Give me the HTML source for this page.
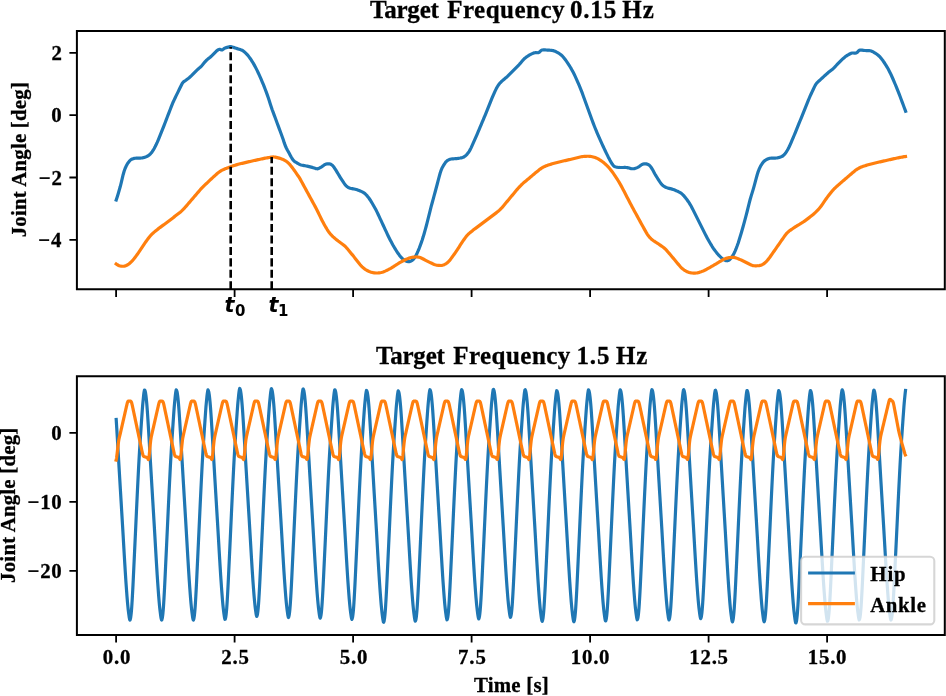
<!DOCTYPE html>
<html lang="en"><head><meta charset="utf-8"><title>Joint Angle Plots</title>
<style>
html,body{margin:0;padding:0;background:#fff;}
body{width:946px;height:696px;overflow:hidden;font-family:"Liberation Serif",serif;}
svg{display:block;}
</style></head>
<body>
<svg width="946" height="696" viewBox="0 0 946 696">
<rect x="0" y="0" width="946" height="696" fill="#fff"/>
<defs><clipPath id="c1"><rect x="77" y="31" width="869" height="258.3"/></clipPath><clipPath id="c2"><rect x="77" y="376.3" width="869" height="258.6"/></clipPath></defs>
<g clip-path="url(#c1)" fill="none" stroke-linejoin="round" stroke-linecap="square">
<path d="M116.20,200.00 L117.20,196.94 L118.20,193.69 L119.20,190.28 L120.20,186.78 L121.20,182.81 L122.20,178.56 L123.20,174.49 L124.20,171.05 L125.20,168.27 L126.20,166.03 L127.20,164.22 L128.20,162.71 L129.20,161.35 L130.20,160.26 L131.20,159.53 L132.20,159.06 L133.20,158.67 L134.20,158.38 L135.20,158.23 L136.20,158.17 L137.20,158.15 L138.20,158.14 L139.20,158.13 L140.20,158.10 L141.20,158.01 L142.20,157.85 L143.20,157.65 L144.20,157.39 L145.20,157.10 L146.20,156.77 L147.20,156.33 L148.20,155.71 L149.20,154.94 L150.20,154.07 L151.20,153.01 L152.20,151.73 L153.20,150.20 L154.20,148.43 L155.20,146.52 L156.20,144.50 L157.20,142.36 L158.20,140.07 L159.20,137.65 L160.20,135.18 L161.20,132.70 L162.20,130.20 L163.20,127.66 L164.20,125.09 L165.20,122.49 L166.20,119.88 L167.20,117.27 L168.20,114.67 L169.20,112.08 L170.20,109.45 L171.20,106.85 L172.20,104.33 L173.20,101.96 L174.20,99.80 L175.20,97.72 L176.20,95.67 L177.20,93.65 L178.20,91.62 L179.20,89.57 L180.20,87.48 L181.20,85.43 L182.20,83.48 L183.20,82.10 L184.20,81.42 L185.20,80.74 L186.20,79.98 L187.20,79.23 L188.20,78.48 L189.20,77.69 L190.20,76.82 L191.20,75.87 L192.20,74.87 L193.20,73.84 L194.20,72.80 L195.20,71.78 L196.20,70.80 L197.20,69.87 L198.20,68.99 L199.20,68.11 L200.20,67.23 L201.20,66.30 L202.20,65.25 L203.20,64.06 L204.20,62.82 L205.20,61.62 L206.20,60.55 L207.20,59.63 L208.20,58.79 L209.20,57.98 L210.20,57.17 L211.20,56.30 L212.20,55.34 L213.20,54.34 L214.20,53.30 L215.20,52.28 L216.20,51.30 L217.20,50.46 L218.20,49.82 L219.20,49.36 L220.20,49.32 L221.20,49.89 L222.20,49.91 L223.20,49.22 L224.20,48.42 L225.20,47.94 L226.20,47.66 L227.20,47.40 L228.20,47.15 L229.20,46.79 L230.20,46.53 L231.20,46.66 L232.20,46.99 L233.20,47.31 L234.20,47.64 L235.20,47.96 L236.20,48.28 L237.20,48.61 L238.20,48.93 L239.20,49.26 L240.20,49.58 L241.20,49.90 L242.20,50.31 L243.20,50.96 L244.20,51.75 L245.20,52.60 L246.20,53.57 L247.20,54.65 L248.20,55.84 L249.20,57.12 L250.20,58.50 L251.20,59.96 L252.20,61.52 L253.20,63.16 L254.20,64.89 L255.20,66.72 L256.20,68.63 L257.20,70.63 L258.20,72.72 L259.20,74.88 L260.20,77.11 L261.20,79.41 L262.20,81.78 L263.20,84.21 L264.20,86.71 L265.20,89.28 L266.20,91.92 L267.20,94.66 L268.20,97.53 L269.20,100.58 L270.20,103.70 L271.20,106.77 L272.20,109.68 L273.20,112.39 L274.20,115.09 L275.20,117.79 L276.20,120.49 L277.20,123.19 L278.20,125.89 L279.20,128.59 L280.20,131.29 L281.20,133.99 L282.20,136.69 L283.20,139.53 L284.20,142.65 L285.20,145.52 L286.20,147.76 L287.20,149.69 L288.20,151.49 L289.20,153.34 L290.20,155.22 L291.20,157.06 L292.20,158.77 L293.20,160.21 L294.20,161.20 L295.20,161.89 L296.20,162.47 L297.20,163.07 L298.20,163.66 L299.20,164.21 L300.20,164.66 L301.20,164.99 L302.20,165.21 L303.20,165.40 L304.20,165.59 L305.20,165.77 L306.20,165.96 L307.20,166.18 L308.20,166.42 L309.20,166.67 L310.20,166.92 L311.20,167.17 L312.20,167.42 L313.20,167.69 L314.20,168.01 L315.20,168.34 L316.20,168.62 L317.20,168.80 L318.20,168.63 L319.20,168.20 L320.20,167.62 L321.20,167.03 L322.20,166.40 L323.20,165.68 L324.20,164.98 L325.20,164.40 L326.20,164.01 L327.20,163.81 L328.20,163.74 L329.20,163.79 L330.20,164.01 L331.20,164.46 L332.20,165.21 L333.20,166.26 L334.20,167.55 L335.20,169.07 L336.20,170.70 L337.20,172.37 L338.20,174.04 L339.20,175.70 L340.20,177.32 L341.20,178.90 L342.20,180.45 L343.20,181.96 L344.20,183.40 L345.20,184.76 L346.20,185.90 L347.20,186.78 L348.20,187.43 L349.20,187.89 L350.20,188.21 L351.20,188.45 L352.20,188.64 L353.20,188.82 L354.20,188.99 L355.20,189.21 L356.20,189.48 L357.20,189.81 L358.20,190.17 L359.20,190.54 L360.20,190.95 L361.20,191.38 L362.20,191.85 L363.20,192.38 L364.20,193.04 L365.20,193.85 L366.20,194.80 L367.20,195.89 L368.20,197.13 L369.20,198.50 L370.20,199.98 L371.20,201.56 L372.20,203.23 L373.20,204.96 L374.20,206.70 L375.20,208.48 L376.20,210.35 L377.20,212.36 L378.20,214.50 L379.20,216.65 L380.20,218.80 L381.20,220.95 L382.20,223.10 L383.20,225.25 L384.20,227.40 L385.20,229.55 L386.20,231.70 L387.20,233.85 L388.20,235.98 L389.20,238.00 L390.20,239.95 L391.20,241.84 L392.20,243.69 L393.20,245.52 L394.20,247.25 L395.20,248.90 L396.20,250.49 L397.20,252.04 L398.20,253.54 L399.20,254.92 L400.20,256.20 L401.20,257.37 L402.20,258.44 L403.20,259.40 L404.20,260.15 L405.20,260.71 L406.20,261.13 L407.20,261.43 L408.20,261.61 L409.20,261.60 L410.20,261.38 L411.20,260.97 L412.20,260.36 L413.20,259.48 L414.20,258.28 L415.20,256.77 L416.20,254.96 L417.20,252.95 L418.20,250.72 L419.20,248.28 L420.20,245.65 L421.20,242.90 L422.20,239.99 L423.20,236.85 L424.20,233.44 L425.20,229.88 L426.20,226.21 L427.20,222.41 L428.20,218.47 L429.20,214.39 L430.20,210.33 L431.20,206.44 L432.20,202.73 L433.20,199.08 L434.20,195.43 L435.20,191.76 L436.20,188.03 L437.20,184.24 L438.20,180.46 L439.20,176.70 L440.20,173.04 L441.20,170.03 L442.20,167.73 L443.20,165.90 L444.20,164.29 L445.20,162.82 L446.20,161.59 L447.20,160.69 L448.20,160.11 L449.20,159.61 L450.20,159.23 L451.20,159.01 L452.20,158.90 L453.20,158.82 L454.20,158.76 L455.20,158.70 L456.20,158.63 L457.20,158.54 L458.20,158.40 L459.20,158.24 L460.20,158.05 L461.20,157.82 L462.20,157.58 L463.20,157.26 L464.20,156.73 L465.20,156.00 L466.20,155.09 L467.20,154.03 L468.20,152.79 L469.20,151.33 L470.20,149.62 L471.20,147.61 L472.20,145.42 L473.20,143.21 L474.20,140.96 L475.20,138.69 L476.20,136.37 L477.20,134.03 L478.20,131.68 L479.20,129.34 L480.20,126.99 L481.20,124.62 L482.20,122.24 L483.20,119.85 L484.20,117.44 L485.20,115.04 L486.20,112.62 L487.20,110.17 L488.20,107.67 L489.20,105.15 L490.20,102.62 L491.20,100.12 L492.20,97.68 L493.20,95.32 L494.20,93.05 L495.20,90.89 L496.20,88.85 L497.20,87.00 L498.20,85.39 L499.20,84.01 L500.20,82.82 L501.20,81.80 L502.20,80.88 L503.20,80.02 L504.20,79.19 L505.20,78.35 L506.20,77.48 L507.20,76.55 L508.20,75.55 L509.20,74.55 L510.20,73.55 L511.20,72.55 L512.20,71.55 L513.20,70.55 L514.20,69.55 L515.20,68.55 L516.20,67.55 L517.20,66.55 L518.20,65.55 L519.20,64.53 L520.20,63.40 L521.20,62.19 L522.20,60.97 L523.20,59.83 L524.20,58.81 L525.20,57.94 L526.20,57.18 L527.20,56.49 L528.20,55.84 L529.20,55.22 L530.20,54.65 L531.20,54.13 L532.20,53.65 L533.20,53.22 L534.20,52.85 L535.20,52.71 L536.20,52.71 L537.20,52.73 L538.20,52.64 L539.20,52.26 L540.20,51.33 L541.20,50.37 L542.20,49.98 L543.20,49.94 L544.20,49.93 L545.20,49.95 L546.20,50.00 L547.20,50.05 L548.20,50.11 L549.20,50.17 L550.20,50.25 L551.20,50.34 L552.20,50.46 L553.20,50.63 L554.20,50.94 L555.20,51.35 L556.20,51.82 L557.20,52.34 L558.20,52.89 L559.20,53.50 L560.20,54.20 L561.20,55.01 L562.20,55.94 L563.20,57.01 L564.20,58.21 L565.20,59.51 L566.20,60.90 L567.20,62.35 L568.20,63.85 L569.20,65.39 L570.20,66.99 L571.20,68.67 L572.20,70.45 L573.20,72.33 L574.20,74.31 L575.20,76.39 L576.20,78.56 L577.20,80.81 L578.20,83.12 L579.20,85.45 L580.20,87.83 L581.20,90.32 L582.20,92.93 L583.20,95.68 L584.20,98.43 L585.20,101.18 L586.20,103.93 L587.20,106.68 L588.20,109.43 L589.20,112.18 L590.20,114.93 L591.20,117.68 L592.20,120.43 L593.20,123.14 L594.20,125.74 L595.20,128.25 L596.20,130.67 L597.20,133.05 L598.20,135.38 L599.20,137.67 L600.20,139.93 L601.20,142.15 L602.20,144.35 L603.20,146.51 L604.20,148.64 L605.20,150.74 L606.20,152.82 L607.20,154.88 L608.20,156.91 L609.20,158.83 L610.20,160.66 L611.20,162.41 L612.20,164.04 L613.20,165.37 L614.20,166.33 L615.20,166.81 L616.20,167.07 L617.20,167.26 L618.20,167.39 L619.20,167.47 L620.20,167.50 L621.20,167.51 L622.20,167.50 L623.20,167.48 L624.20,167.47 L625.20,167.47 L626.20,167.50 L627.20,167.61 L628.20,167.81 L629.20,168.08 L630.20,168.35 L631.20,168.58 L632.20,168.73 L633.20,168.74 L634.20,168.61 L635.20,168.36 L636.20,168.02 L637.20,167.62 L638.20,167.15 L639.20,166.49 L640.20,165.74 L641.20,165.01 L642.20,164.39 L643.20,163.99 L644.20,163.78 L645.20,163.75 L646.20,163.88 L647.20,164.15 L648.20,164.55 L649.20,165.18 L650.20,166.11 L651.20,167.42 L652.20,169.06 L653.20,170.83 L654.20,172.66 L655.20,174.47 L656.20,176.17 L657.20,177.78 L658.20,179.38 L659.20,180.92 L660.20,182.37 L661.20,183.69 L662.20,184.82 L663.20,185.75 L664.20,186.48 L665.20,187.05 L666.20,187.48 L667.20,187.81 L668.20,188.09 L669.20,188.34 L670.20,188.58 L671.20,188.85 L672.20,189.15 L673.20,189.50 L674.20,189.87 L675.20,190.26 L676.20,190.67 L677.20,191.10 L678.20,191.57 L679.20,192.07 L680.20,192.61 L681.20,193.28 L682.20,194.11 L683.20,195.07 L684.20,196.17 L685.20,197.38 L686.20,198.68 L687.20,200.05 L688.20,201.47 L689.20,202.97 L690.20,204.57 L691.20,206.29 L692.20,208.16 L693.20,210.15 L694.20,212.15 L695.20,214.15 L696.20,216.15 L697.20,218.15 L698.20,220.15 L699.20,222.15 L700.20,224.15 L701.20,226.15 L702.20,228.15 L703.20,230.15 L704.20,232.15 L705.20,234.15 L706.20,236.09 L707.20,237.96 L708.20,239.77 L709.20,241.52 L710.20,243.24 L711.20,244.92 L712.20,246.53 L713.20,248.05 L714.20,249.48 L715.20,250.83 L716.20,252.13 L717.20,253.38 L718.20,254.58 L719.20,255.68 L720.20,256.68 L721.20,257.61 L722.20,258.49 L723.20,259.30 L724.20,259.91 L725.20,260.36 L726.20,260.65 L727.20,260.78 L728.20,260.55 L729.20,259.96 L730.20,259.07 L731.20,257.92 L732.20,256.54 L733.20,254.90 L734.20,252.99 L735.20,250.79 L736.20,248.39 L737.20,245.79 L738.20,242.94 L739.20,239.82 L740.20,236.58 L741.20,233.26 L742.20,229.81 L743.20,226.25 L744.20,222.62 L745.20,218.93 L746.20,215.19 L747.20,211.26 L748.20,207.14 L749.20,203.06 L750.20,199.27 L751.20,195.84 L752.20,192.60 L753.20,189.35 L754.20,185.91 L755.20,182.20 L756.20,178.41 L757.20,174.78 L758.20,171.56 L759.20,168.95 L760.20,166.84 L761.20,165.08 L762.20,163.54 L763.20,162.21 L764.20,161.13 L765.20,160.37 L766.20,159.75 L767.20,159.20 L768.20,158.74 L769.20,158.41 L770.20,158.23 L771.20,158.15 L772.20,158.12 L773.20,158.13 L774.20,158.12 L775.20,158.09 L776.20,158.01 L777.20,157.85 L778.20,157.65 L779.20,157.39 L780.20,157.10 L781.20,156.77 L782.20,156.31 L783.20,155.62 L784.20,154.68 L785.20,153.49 L786.20,152.11 L787.20,150.52 L788.20,148.74 L789.20,146.75 L790.20,144.55 L791.20,142.27 L792.20,139.96 L793.20,137.63 L794.20,135.25 L795.20,132.81 L796.20,130.35 L797.20,127.89 L798.20,125.42 L799.20,122.96 L800.20,120.50 L801.20,118.03 L802.20,115.56 L803.20,113.08 L804.20,110.59 L805.20,108.10 L806.20,105.61 L807.20,103.13 L808.20,100.65 L809.20,98.24 L810.20,95.95 L811.20,93.77 L812.20,91.64 L813.20,89.54 L814.20,87.43 L815.20,85.40 L816.20,83.72 L817.20,82.61 L818.20,81.67 L819.20,80.74 L820.20,79.83 L821.20,78.92 L822.20,78.01 L823.20,77.10 L824.20,76.19 L825.20,75.29 L826.20,74.38 L827.20,73.48 L828.20,72.61 L829.20,71.81 L830.20,71.04 L831.20,70.27 L832.20,69.47 L833.20,68.58 L834.20,67.59 L835.20,66.55 L836.20,65.50 L837.20,64.44 L838.20,63.39 L839.20,62.36 L840.20,61.33 L841.20,60.30 L842.20,59.34 L843.20,58.46 L844.20,57.64 L845.20,56.84 L846.20,56.09 L847.20,55.42 L848.20,54.81 L849.20,54.25 L850.20,53.74 L851.20,53.27 L852.20,52.99 L853.20,52.99 L854.20,53.10 L855.20,53.17 L856.20,53.02 L857.20,52.33 L858.20,51.24 L859.20,50.28 L860.20,50.01 L861.20,50.09 L862.20,50.20 L863.20,50.32 L864.20,50.43 L865.20,50.51 L866.20,50.56 L867.20,50.59 L868.20,50.63 L869.20,50.68 L870.20,50.77 L871.20,51.02 L872.20,51.42 L873.20,51.94 L874.20,52.52 L875.20,53.12 L876.20,53.76 L877.20,54.48 L878.20,55.29 L879.20,56.19 L880.20,57.21 L881.20,58.37 L882.20,59.65 L883.20,61.04 L884.20,62.52 L885.20,64.06 L886.20,65.65 L887.20,67.30 L888.20,69.04 L889.20,70.91 L890.20,72.91 L891.20,75.03 L892.20,77.22 L893.20,79.48 L894.20,81.82 L895.20,84.24 L896.20,86.67 L897.20,89.12 L898.20,91.61 L899.20,94.15 L900.20,96.78 L901.20,99.44 L902.20,102.11 L903.20,104.78 L904.20,107.45 L905.20,110.13 L905.60,111.20" stroke="#1f77b4" stroke-width="3.2"/>
<path d="M116.20,263.90 L117.20,264.66 L118.20,265.25 L119.20,265.67 L120.20,265.97 L121.20,266.16 L122.20,266.24 L123.20,266.23 L124.20,266.11 L125.20,265.88 L126.20,265.52 L127.20,265.04 L128.20,264.44 L129.20,263.70 L130.20,262.81 L131.20,261.85 L132.20,260.83 L133.20,259.73 L134.20,258.54 L135.20,257.23 L136.20,255.87 L137.20,254.49 L138.20,253.09 L139.20,251.66 L140.20,250.21 L141.20,248.72 L142.20,247.20 L143.20,245.69 L144.20,244.18 L145.20,242.71 L146.20,241.27 L147.20,239.87 L148.20,238.52 L149.20,237.23 L150.20,236.01 L151.20,234.90 L152.20,233.89 L153.20,232.97 L154.20,232.13 L155.20,231.30 L156.20,230.48 L157.20,229.67 L158.20,228.88 L159.20,228.10 L160.20,227.35 L161.20,226.61 L162.20,225.88 L163.20,225.15 L164.20,224.43 L165.20,223.70 L166.20,222.96 L167.20,222.22 L168.20,221.48 L169.20,220.72 L170.20,219.96 L171.20,219.19 L172.20,218.42 L173.20,217.65 L174.20,216.87 L175.20,216.09 L176.20,215.33 L177.20,214.57 L178.20,213.80 L179.20,213.01 L180.20,212.20 L181.20,211.34 L182.20,210.43 L183.20,209.45 L184.20,208.40 L185.20,207.27 L186.20,206.10 L187.20,204.93 L188.20,203.77 L189.20,202.60 L190.20,201.43 L191.20,200.27 L192.20,199.10 L193.20,197.93 L194.20,196.77 L195.20,195.60 L196.20,194.43 L197.20,193.27 L198.20,192.10 L199.20,190.93 L200.20,189.77 L201.20,188.65 L202.20,187.60 L203.20,186.60 L204.20,185.63 L205.20,184.68 L206.20,183.74 L207.20,182.79 L208.20,181.82 L209.20,180.87 L210.20,179.92 L211.20,178.98 L212.20,178.05 L213.20,177.13 L214.20,176.22 L215.20,175.32 L216.20,174.44 L217.20,173.59 L218.20,172.78 L219.20,172.03 L220.20,171.33 L221.20,170.70 L222.20,170.15 L223.20,169.67 L224.20,169.22 L225.20,168.80 L226.20,168.39 L227.20,168.01 L228.20,167.64 L229.20,167.28 L230.20,166.93 L231.20,166.58 L232.20,166.22 L233.20,165.86 L234.20,165.51 L235.20,165.18 L236.20,164.87 L237.20,164.58 L238.20,164.32 L239.20,164.06 L240.20,163.81 L241.20,163.56 L242.20,163.32 L243.20,163.08 L244.20,162.84 L245.20,162.60 L246.20,162.37 L247.20,162.14 L248.20,161.91 L249.20,161.68 L250.20,161.45 L251.20,161.23 L252.20,161.01 L253.20,160.78 L254.20,160.56 L255.20,160.34 L256.20,160.12 L257.20,159.90 L258.20,159.68 L259.20,159.47 L260.20,159.25 L261.20,159.03 L262.20,158.82 L263.20,158.60 L264.20,158.39 L265.20,158.19 L266.20,157.99 L267.20,157.81 L268.20,157.63 L269.20,157.47 L270.20,157.31 L271.20,157.17 L272.20,157.04 L273.20,156.95 L274.20,156.99 L275.20,157.12 L276.20,157.33 L277.20,157.59 L278.20,157.86 L279.20,158.12 L280.20,158.41 L281.20,158.75 L282.20,159.13 L283.20,159.57 L284.20,160.06 L285.20,160.62 L286.20,161.26 L287.20,162.00 L288.20,162.86 L289.20,163.83 L290.20,164.94 L291.20,166.18 L292.20,167.52 L293.20,168.88 L294.20,170.27 L295.20,171.68 L296.20,173.12 L297.20,174.56 L298.20,175.99 L299.20,177.42 L300.20,179.12 L301.20,180.95 L302.20,182.78 L303.20,184.62 L304.20,186.45 L305.20,188.28 L306.20,190.12 L307.20,191.95 L308.20,193.78 L309.20,195.62 L310.20,197.45 L311.20,199.28 L312.20,201.12 L313.20,202.95 L314.20,204.78 L315.20,206.62 L316.20,208.52 L317.20,210.50 L318.20,212.52 L319.20,214.58 L320.20,216.64 L321.20,218.67 L322.20,220.67 L323.20,222.59 L324.20,224.44 L325.20,226.21 L326.20,227.91 L327.20,229.53 L328.20,231.06 L329.20,232.48 L330.20,233.78 L331.20,234.95 L332.20,235.97 L333.20,236.88 L334.20,237.75 L335.20,238.61 L336.20,239.44 L337.20,240.26 L338.20,241.05 L339.20,241.79 L340.20,242.50 L341.20,243.21 L342.20,243.93 L343.20,244.69 L344.20,245.52 L345.20,246.44 L346.20,247.46 L347.20,248.55 L348.20,249.71 L349.20,250.92 L350.20,252.15 L351.20,253.40 L352.20,254.63 L353.20,255.86 L354.20,257.12 L355.20,258.41 L356.20,259.70 L357.20,260.99 L358.20,262.27 L359.20,263.53 L360.20,264.74 L361.20,265.86 L362.20,266.87 L363.20,267.78 L364.20,268.59 L365.20,269.32 L366.20,269.97 L367.20,270.55 L368.20,271.05 L369.20,271.49 L370.20,271.86 L371.20,272.18 L372.20,272.43 L373.20,272.64 L374.20,272.81 L375.20,272.94 L376.20,273.01 L377.20,273.01 L378.20,272.96 L379.20,272.87 L380.20,272.73 L381.20,272.54 L382.20,272.29 L383.20,271.96 L384.20,271.56 L385.20,271.13 L386.20,270.67 L387.20,270.19 L388.20,269.69 L389.20,269.16 L390.20,268.61 L391.20,268.03 L392.20,267.43 L393.20,266.81 L394.20,266.17 L395.20,265.52 L396.20,264.87 L397.20,264.23 L398.20,263.60 L399.20,262.98 L400.20,262.38 L401.20,261.82 L402.20,261.27 L403.20,260.76 L404.20,260.26 L405.20,259.78 L406.20,259.33 L407.20,258.88 L408.20,258.46 L409.20,258.10 L410.20,257.79 L411.20,257.54 L412.20,257.34 L413.20,257.18 L414.20,257.06 L415.20,256.99 L416.20,256.95 L417.20,256.98 L418.20,257.08 L419.20,257.27 L420.20,257.56 L421.20,257.98 L422.20,258.47 L423.20,258.99 L424.20,259.52 L425.20,260.06 L426.20,260.59 L427.20,261.10 L428.20,261.60 L429.20,262.09 L430.20,262.58 L431.20,263.06 L432.20,263.53 L433.20,264.00 L434.20,264.44 L435.20,264.80 L436.20,265.06 L437.20,265.24 L438.20,265.37 L439.20,265.45 L440.20,265.51 L441.20,265.47 L442.20,265.31 L443.20,265.03 L444.20,264.64 L445.20,264.14 L446.20,263.56 L447.20,262.86 L448.20,262.00 L449.20,260.97 L450.20,259.74 L451.20,258.41 L452.20,257.05 L453.20,255.66 L454.20,254.24 L455.20,252.79 L456.20,251.32 L457.20,249.83 L458.20,248.30 L459.20,246.76 L460.20,245.22 L461.20,243.69 L462.20,242.19 L463.20,240.72 L464.20,239.27 L465.20,237.86 L466.20,236.54 L467.20,235.33 L468.20,234.26 L469.20,233.36 L470.20,232.51 L471.20,231.69 L472.20,230.89 L473.20,230.11 L474.20,229.35 L475.20,228.60 L476.20,227.85 L477.20,227.10 L478.20,226.35 L479.20,225.60 L480.20,224.85 L481.20,224.10 L482.20,223.35 L483.20,222.60 L484.20,221.85 L485.20,221.10 L486.20,220.35 L487.20,219.60 L488.20,218.85 L489.20,218.10 L490.20,217.35 L491.20,216.60 L492.20,215.85 L493.20,215.10 L494.20,214.35 L495.20,213.60 L496.20,212.85 L497.20,212.07 L498.20,211.26 L499.20,210.40 L500.20,209.48 L501.20,208.46 L502.20,207.35 L503.20,206.16 L504.20,204.96 L505.20,203.76 L506.20,202.56 L507.20,201.36 L508.20,200.16 L509.20,198.96 L510.20,197.76 L511.20,196.56 L512.20,195.36 L513.20,194.16 L514.20,192.95 L515.20,191.74 L516.20,190.54 L517.20,189.37 L518.20,188.22 L519.20,187.11 L520.20,186.04 L521.20,185.03 L522.20,184.08 L523.20,183.18 L524.20,182.30 L525.20,181.46 L526.20,180.64 L527.20,179.82 L528.20,179.00 L529.20,178.17 L530.20,177.33 L531.20,176.48 L532.20,175.62 L533.20,174.77 L534.20,173.92 L535.20,173.09 L536.20,172.26 L537.20,171.44 L538.20,170.64 L539.20,169.86 L540.20,169.10 L541.20,168.40 L542.20,167.76 L543.20,167.19 L544.20,166.68 L545.20,166.22 L546.20,165.80 L547.20,165.42 L548.20,165.07 L549.20,164.75 L550.20,164.44 L551.20,164.14 L552.20,163.84 L553.20,163.55 L554.20,163.26 L555.20,162.98 L556.20,162.71 L557.20,162.44 L558.20,162.18 L559.20,161.94 L560.20,161.70 L561.20,161.48 L562.20,161.25 L563.20,161.03 L564.20,160.80 L565.20,160.58 L566.20,160.36 L567.20,160.14 L568.20,159.91 L569.20,159.68 L570.20,159.45 L571.20,159.22 L572.20,158.97 L573.20,158.72 L574.20,158.46 L575.20,158.21 L576.20,157.95 L577.20,157.69 L578.20,157.44 L579.20,157.19 L580.20,156.95 L581.20,156.75 L582.20,156.60 L583.20,156.48 L584.20,156.39 L585.20,156.33 L586.20,156.29 L587.20,156.26 L588.20,156.24 L589.20,156.28 L590.20,156.38 L591.20,156.52 L592.20,156.72 L593.20,156.96 L594.20,157.24 L595.20,157.57 L596.20,157.96 L597.20,158.42 L598.20,158.94 L599.20,159.51 L600.20,160.14 L601.20,160.81 L602.20,161.53 L603.20,162.28 L604.20,163.09 L605.20,163.95 L606.20,164.87 L607.20,165.85 L608.20,166.89 L609.20,168.01 L610.20,169.19 L611.20,170.43 L612.20,171.73 L613.20,173.11 L614.20,174.55 L615.20,176.06 L616.20,177.60 L617.20,179.17 L618.20,180.77 L619.20,182.42 L620.20,184.12 L621.20,185.89 L622.20,187.73 L623.20,189.65 L624.20,191.59 L625.20,193.54 L626.20,195.49 L627.20,197.43 L628.20,199.34 L629.20,201.25 L630.20,203.16 L631.20,205.06 L632.20,206.94 L633.20,208.80 L634.20,210.65 L635.20,212.49 L636.20,214.32 L637.20,216.14 L638.20,217.96 L639.20,219.79 L640.20,221.62 L641.20,223.44 L642.20,225.26 L643.20,227.06 L644.20,228.86 L645.20,230.64 L646.20,232.41 L647.20,234.08 L648.20,235.54 L649.20,236.83 L650.20,237.94 L651.20,238.92 L652.20,239.77 L653.20,240.52 L654.20,241.21 L655.20,241.86 L656.20,242.49 L657.20,243.11 L658.20,243.75 L659.20,244.42 L660.20,245.15 L661.20,245.86 L662.20,246.56 L663.20,247.28 L664.20,248.06 L665.20,248.94 L666.20,249.95 L667.20,251.05 L668.20,252.19 L669.20,253.35 L670.20,254.53 L671.20,255.72 L672.20,256.91 L673.20,258.10 L674.20,259.28 L675.20,260.48 L676.20,261.69 L677.20,262.90 L678.20,264.11 L679.20,265.30 L680.20,266.48 L681.20,267.56 L682.20,268.49 L683.20,269.32 L684.20,270.03 L685.20,270.66 L686.20,271.22 L687.20,271.71 L688.20,272.12 L689.20,272.44 L690.20,272.69 L691.20,272.87 L692.20,272.98 L693.20,273.03 L694.20,273.06 L695.20,273.05 L696.20,272.98 L697.20,272.85 L698.20,272.65 L699.20,272.37 L700.20,272.05 L701.20,271.72 L702.20,271.36 L703.20,270.96 L704.20,270.53 L705.20,270.06 L706.20,269.53 L707.20,268.97 L708.20,268.41 L709.20,267.84 L710.20,267.27 L711.20,266.70 L712.20,266.12 L713.20,265.55 L714.20,264.97 L715.20,264.38 L716.20,263.79 L717.20,263.19 L718.20,262.58 L719.20,261.98 L720.20,261.37 L721.20,260.77 L722.20,260.18 L723.20,259.61 L724.20,259.13 L725.20,258.71 L726.20,258.37 L727.20,258.07 L728.20,257.83 L729.20,257.63 L730.20,257.47 L731.20,257.35 L732.20,257.31 L733.20,257.33 L734.20,257.45 L735.20,257.66 L736.20,257.98 L737.20,258.37 L738.20,258.78 L739.20,259.20 L740.20,259.64 L741.20,260.08 L742.20,260.53 L743.20,260.99 L744.20,261.46 L745.20,261.95 L746.20,262.46 L747.20,262.98 L748.20,263.50 L749.20,264.02 L750.20,264.51 L751.20,264.98 L752.20,265.36 L753.20,265.60 L754.20,265.73 L755.20,265.79 L756.20,265.78 L757.20,265.76 L758.20,265.72 L759.20,265.61 L760.20,265.42 L761.20,265.12 L762.20,264.70 L763.20,264.13 L764.20,263.41 L765.20,262.56 L766.20,261.62 L767.20,260.56 L768.20,259.39 L769.20,258.11 L770.20,256.71 L771.20,255.28 L772.20,253.85 L773.20,252.41 L774.20,250.98 L775.20,249.55 L776.20,248.11 L777.20,246.68 L778.20,245.25 L779.20,243.81 L780.20,242.38 L781.20,240.95 L782.20,239.51 L783.20,238.08 L784.20,236.65 L785.20,235.22 L786.20,233.93 L787.20,232.84 L788.20,231.89 L789.20,231.07 L790.20,230.33 L791.20,229.63 L792.20,228.96 L793.20,228.27 L794.20,227.61 L795.20,226.97 L796.20,226.34 L797.20,225.72 L798.20,225.11 L799.20,224.50 L800.20,223.89 L801.20,223.26 L802.20,222.63 L803.20,221.98 L804.20,221.31 L805.20,220.61 L806.20,219.89 L807.20,219.15 L808.20,218.40 L809.20,217.64 L810.20,216.85 L811.20,216.06 L812.20,215.25 L813.20,214.41 L814.20,213.54 L815.20,212.63 L816.20,211.67 L817.20,210.65 L818.20,209.58 L819.20,208.45 L820.20,207.25 L821.20,205.96 L822.20,204.57 L823.20,203.13 L824.20,201.66 L825.20,200.19 L826.20,198.76 L827.20,197.39 L828.20,196.09 L829.20,194.78 L830.20,193.48 L831.20,192.21 L832.20,190.98 L833.20,189.83 L834.20,188.77 L835.20,187.82 L836.20,186.91 L837.20,186.02 L838.20,185.14 L839.20,184.26 L840.20,183.39 L841.20,182.53 L842.20,181.66 L843.20,180.80 L844.20,179.94 L845.20,179.08 L846.20,178.21 L847.20,177.35 L848.20,176.49 L849.20,175.63 L850.20,174.77 L851.20,173.92 L852.20,173.07 L853.20,172.23 L854.20,171.41 L855.20,170.59 L856.20,169.83 L857.20,169.15 L858.20,168.55 L859.20,168.00 L860.20,167.52 L861.20,167.08 L862.20,166.69 L863.20,166.33 L864.20,166.00 L865.20,165.69 L866.20,165.39 L867.20,165.09 L868.20,164.79 L869.20,164.50 L870.20,164.22 L871.20,163.95 L872.20,163.68 L873.20,163.43 L874.20,163.18 L875.20,162.95 L876.20,162.73 L877.20,162.50 L878.20,162.28 L879.20,162.05 L880.20,161.83 L881.20,161.60 L882.20,161.38 L883.20,161.16 L884.20,160.93 L885.20,160.70 L886.20,160.48 L887.20,160.25 L888.20,160.03 L889.20,159.80 L890.20,159.58 L891.20,159.35 L892.20,159.13 L893.20,158.91 L894.20,158.68 L895.20,158.46 L896.20,158.24 L897.20,158.03 L898.20,157.82 L899.20,157.62 L900.20,157.43 L901.20,157.24 L902.20,157.06 L903.20,156.87 L904.20,156.70 L905.20,156.55 L905.50,156.50" stroke="#ff7f0e" stroke-width="3.2"/>
<path d="M230.7,289.3 L230.7,47" stroke="#000" stroke-width="2.6" stroke-linecap="butt" stroke-dasharray="8.05 3.4"/>
<path d="M271.7,289.3 L271.7,157" stroke="#000" stroke-width="2.6" stroke-linecap="butt" stroke-dasharray="8.05 3.4"/>
</g>
<g clip-path="url(#c2)" fill="none" stroke-linejoin="round" stroke-linecap="square">
<path d="M116.20,419.45 L116.45,423.40 L116.70,427.48 L116.95,431.60 L117.20,435.75 L117.45,439.97 L117.70,444.22 L117.95,448.48 L118.20,452.77 L118.45,457.06 L118.70,461.32 L118.95,465.56 L119.20,469.79 L119.45,474.01 L119.70,478.22 L119.95,482.41 L120.20,486.59 L120.45,490.75 L120.70,494.91 L120.95,499.06 L121.20,503.22 L121.45,507.38 L121.70,511.53 L121.95,515.67 L122.20,519.83 L122.45,523.99 L122.70,528.18 L122.95,532.42 L123.20,536.71 L123.45,541.04 L123.70,545.38 L123.95,549.70 L124.20,553.98 L124.45,558.19 L124.70,562.33 L124.95,566.44 L125.20,570.49 L125.45,574.47 L125.70,578.33 L125.95,582.05 L126.20,585.65 L126.45,589.12 L126.70,592.49 L126.95,595.78 L127.20,598.95 L127.45,601.88 L127.70,604.63 L127.95,607.17 L128.20,609.48 L128.45,611.60 L128.70,613.56 L128.95,615.41 L129.20,617.16 L129.45,618.54 L129.70,619.58 L129.95,620.14 L130.20,619.55 L130.45,618.62 L130.70,617.36 L130.95,615.53 L131.20,613.36 L131.45,610.62 L131.70,607.43 L131.95,603.75 L132.20,599.62 L132.45,595.19 L132.70,590.61 L132.95,585.81 L133.20,580.71 L133.45,575.44 L133.70,570.09 L133.95,564.79 L134.20,559.54 L134.45,554.26 L134.70,548.95 L134.95,543.62 L135.20,538.28 L135.45,532.94 L135.70,527.57 L135.95,522.17 L136.20,516.76 L136.45,511.37 L136.70,506.05 L136.95,500.80 L137.20,495.59 L137.45,490.42 L137.70,485.32 L137.95,480.30 L138.20,475.34 L138.45,470.44 L138.70,465.68 L138.95,461.10 L139.20,456.69 L139.45,452.42 L139.70,448.29 L139.95,444.32 L140.20,440.51 L140.45,436.78 L140.70,433.06 L140.95,429.32 L141.20,425.62 L141.45,421.95 L141.70,418.35 L141.95,414.80 L142.20,411.26 L142.45,407.90 L142.70,404.88 L142.95,402.15 L143.20,399.60 L143.45,397.13 L143.70,394.76 L143.95,392.83 L144.20,391.26 L144.45,390.00 L144.70,390.01 L144.95,390.56 L145.20,391.30 L145.45,392.38 L145.70,393.91 L145.95,395.66 L146.20,397.83 L146.45,400.29 L146.70,402.98 L146.95,405.91 L147.20,409.08 L147.45,412.56 L147.70,416.26 L147.95,420.07 L148.20,424.05 L148.45,428.13 L148.70,432.26 L148.95,436.42 L149.20,440.65 L149.45,444.90 L149.70,449.17 L149.95,453.46 L150.20,457.74 L150.45,462.00 L150.70,466.24 L150.95,470.47 L151.20,474.69 L151.45,478.89 L151.70,483.08 L151.95,487.26 L152.20,491.42 L152.45,495.57 L152.70,499.73 L152.95,503.88 L153.20,508.04 L153.45,512.19 L153.70,516.34 L153.95,520.49 L154.20,524.66 L154.45,528.86 L154.70,533.10 L154.95,537.40 L155.20,541.73 L155.45,546.07 L155.70,550.39 L155.95,554.66 L156.20,558.86 L156.45,562.99 L156.70,567.09 L156.95,571.14 L157.20,575.10 L157.45,578.94 L157.70,582.64 L157.95,586.21 L158.20,589.67 L158.45,593.02 L158.70,596.30 L158.95,599.43 L159.20,602.34 L159.45,605.05 L159.70,607.56 L159.95,609.83 L160.20,611.92 L160.45,613.86 L160.70,615.71 L160.95,617.42 L161.20,618.72 L161.45,619.72 L161.70,620.07 L161.95,619.42 L162.20,618.46 L162.45,617.10 L162.70,615.20 L162.95,612.96 L163.20,610.14 L163.45,606.88 L163.70,603.12 L163.95,598.93 L164.20,594.46 L164.45,589.87 L164.70,585.01 L164.95,579.88 L165.20,574.58 L165.45,569.24 L165.70,563.95 L165.95,558.70 L166.20,553.41 L166.45,548.10 L166.70,542.77 L166.95,537.43 L167.20,532.09 L167.45,526.71 L167.70,521.30 L167.95,515.89 L168.20,510.52 L168.45,505.20 L168.70,499.96 L168.95,494.76 L169.20,489.60 L169.45,484.51 L169.70,479.51 L169.95,474.55 L170.20,469.67 L170.45,464.93 L170.70,460.39 L170.95,456.00 L171.20,451.75 L171.45,447.64 L171.70,443.70 L171.95,439.91 L172.20,436.19 L172.45,432.46 L172.70,428.73 L172.95,425.03 L173.20,421.37 L173.45,417.79 L173.70,414.23 L173.95,410.70 L174.20,407.39 L174.45,404.43 L174.70,401.73 L174.95,399.21 L175.20,396.74 L175.45,394.41 L175.70,392.56 L175.95,391.03 L176.20,389.84 L176.45,390.08 L176.70,390.67 L176.95,391.43 L177.20,392.60 L177.45,394.18 L177.70,395.97 L177.95,398.21 L178.20,400.71 L178.45,403.43 L178.70,406.40 L178.95,409.62 L179.20,413.15 L179.45,416.87 L179.70,420.70 L179.95,424.70 L180.20,428.79 L180.45,432.92 L180.70,437.10 L180.95,441.33 L181.20,445.58 L181.45,449.85 L181.70,454.15 L181.95,458.42 L182.20,462.68 L182.45,466.92 L182.70,471.14 L182.95,475.36 L183.20,479.56 L183.45,483.75 L183.70,487.92 L183.95,492.08 L184.20,496.24 L184.45,500.39 L184.70,504.55 L184.95,508.71 L185.20,512.85 L185.45,517.00 L185.70,521.16 L185.95,525.33 L186.20,529.53 L186.45,533.79 L186.70,538.09 L186.95,542.43 L187.20,546.77 L187.45,551.08 L187.70,555.34 L187.95,559.52 L188.20,563.65 L188.45,567.74 L188.70,571.78 L188.95,575.72 L189.20,579.54 L189.45,583.22 L189.70,586.77 L189.95,590.21 L190.20,593.55 L190.45,596.81 L190.70,599.91 L190.95,602.78 L191.20,605.47 L191.45,607.94 L191.70,610.18 L191.95,612.24 L192.20,614.16 L192.45,616.00 L192.70,617.66 L192.95,618.90 L193.20,619.86 L193.45,620.00 L193.70,619.28 L193.95,618.29 L194.20,616.83 L194.45,614.87 L194.70,612.55 L194.95,609.64 L195.20,606.32 L195.45,602.48 L195.70,598.24 L195.95,593.74 L196.20,589.13 L196.45,584.22 L196.70,579.05 L196.95,573.75 L197.20,568.41 L197.45,563.13 L197.70,557.88 L197.95,552.59 L198.20,547.28 L198.45,541.95 L198.70,536.61 L198.95,531.27 L199.20,525.89 L199.45,520.48 L199.70,515.08 L199.95,509.71 L200.20,504.41 L200.45,499.18 L200.70,493.98 L200.95,488.84 L201.20,483.77 L201.45,478.77 L201.70,473.83 L201.95,468.96 L202.20,464.26 L202.45,459.74 L202.70,455.38 L202.95,451.16 L203.20,447.08 L203.45,443.16 L203.70,439.39 L203.95,435.67 L204.20,431.94 L204.45,428.22 L204.70,424.52 L204.95,420.88 L205.20,417.31 L205.45,413.75 L205.70,410.25 L205.95,406.98 L206.20,404.08 L206.45,401.41 L206.70,398.91 L206.95,396.45 L207.20,394.18 L207.45,392.40 L207.70,390.92 L207.95,389.91 L208.20,390.25 L208.45,390.88 L208.70,391.68 L208.95,392.92 L209.20,394.54 L209.45,396.38 L209.70,398.67 L209.95,401.19 L210.20,403.95 L210.45,406.94 L210.70,410.19 L210.95,413.75 L211.20,417.47 L211.45,421.32 L211.70,425.32 L211.95,429.42 L212.20,433.53 L212.45,437.70 L212.70,441.93 L212.95,446.16 L213.20,450.43 L213.45,454.71 L213.70,458.96 L213.95,463.20 L214.20,467.42 L214.45,471.63 L214.70,475.83 L214.95,480.02 L215.20,484.19 L215.45,488.35 L215.70,492.49 L215.95,496.63 L216.20,500.77 L216.45,504.92 L216.70,509.06 L216.95,513.19 L217.20,517.32 L217.45,521.46 L217.70,525.63 L217.95,529.82 L218.20,534.07 L218.45,538.37 L218.70,542.69 L218.95,547.01 L219.20,551.30 L219.45,555.54 L219.70,559.69 L219.95,563.80 L220.20,567.87 L220.45,571.88 L220.70,575.79 L220.95,579.57 L221.20,583.22 L221.45,586.75 L221.70,590.16 L221.95,593.47 L222.20,596.70 L222.45,599.76 L222.70,602.58 L222.95,605.23 L223.20,607.65 L223.45,609.85 L223.70,611.89 L223.95,613.77 L224.20,615.60 L224.45,617.19 L224.70,618.37 L224.95,619.28 L225.20,619.21 L225.45,618.43 L225.70,617.39 L225.95,615.83 L226.20,613.81 L226.45,611.39 L226.70,608.40 L226.95,604.99 L227.20,601.06 L227.45,596.75 L227.70,592.22 L227.95,587.55 L228.20,582.58 L228.45,577.37 L228.70,572.03 L228.95,566.67 L229.20,561.39 L229.45,556.11 L229.70,550.80 L229.95,545.47 L230.20,540.12 L230.45,534.76 L230.70,529.40 L230.95,523.99 L231.20,518.56 L231.45,513.15 L231.70,507.77 L231.95,502.47 L232.20,497.22 L232.45,492.01 L232.70,486.86 L232.95,481.78 L233.20,476.78 L233.45,471.83 L233.70,466.97 L233.95,462.28 L234.20,457.78 L234.45,453.42 L234.70,449.21 L234.95,445.13 L235.20,441.24 L235.45,437.46 L235.70,433.73 L235.95,429.99 L236.20,426.26 L236.45,422.55 L236.70,418.91 L236.95,415.33 L237.20,411.76 L237.45,408.27 L237.70,405.05 L237.95,402.18 L238.20,399.54 L238.45,397.05 L238.70,394.58 L238.95,392.37 L239.20,390.65 L239.45,389.21 L239.70,388.44 L239.95,388.84 L240.20,389.49 L240.45,390.33 L240.70,391.64 L240.95,393.28 L241.20,395.17 L241.45,397.50 L241.70,400.03 L241.95,402.82 L242.20,405.83 L242.45,409.11 L242.70,412.68 L242.95,416.39 L243.20,420.24 L243.45,424.24 L243.70,428.31 L243.95,432.40 L244.20,436.56 L244.45,440.76 L244.70,444.97 L244.95,449.21 L245.20,453.47 L245.45,457.69 L245.70,461.89 L245.95,466.09 L246.20,470.27 L246.45,474.44 L246.70,478.60 L246.95,482.74 L247.20,486.86 L247.45,490.98 L247.70,495.09 L247.95,499.20 L248.20,503.32 L248.45,507.44 L248.70,511.54 L248.95,515.65 L249.20,519.77 L249.45,523.91 L249.70,528.08 L249.95,532.31 L250.20,536.58 L250.45,540.88 L250.70,545.17 L250.95,549.42 L251.20,553.62 L251.45,557.73 L251.70,561.81 L251.95,565.85 L252.20,569.82 L252.45,573.69 L252.70,577.42 L252.95,581.02 L253.20,584.51 L253.45,587.88 L253.70,591.16 L253.95,594.35 L254.20,597.35 L254.45,600.13 L254.70,602.72 L254.95,605.09 L255.20,607.25 L255.45,609.25 L255.70,611.10 L255.95,612.90 L256.20,614.42 L256.45,615.55 L256.70,616.40 L256.95,616.11 L257.20,615.29 L257.45,614.22 L257.70,612.58 L257.95,610.55 L258.20,608.07 L258.45,605.05 L258.70,601.61 L258.95,597.67 L259.20,593.37 L259.45,588.88 L259.70,584.24 L259.95,579.30 L260.20,574.13 L260.45,568.86 L260.70,563.59 L260.95,558.39 L261.20,553.18 L261.45,547.94 L261.70,542.68 L261.95,537.41 L262.20,532.13 L262.45,526.83 L262.70,521.50 L262.95,516.15 L263.20,510.81 L263.45,505.52 L263.70,500.31 L263.95,495.14 L264.20,490.02 L264.45,484.95 L264.70,479.96 L264.95,475.04 L265.20,470.16 L265.45,465.40 L265.70,460.80 L265.95,456.39 L266.20,452.12 L266.45,447.99 L266.70,444.00 L266.95,440.18 L267.20,436.48 L267.45,432.80 L267.70,429.11 L267.95,425.43 L268.20,421.79 L268.45,418.20 L268.70,414.69 L268.95,411.17 L269.20,407.76 L269.45,404.64 L269.70,401.86 L269.95,399.28 L270.20,396.83 L270.45,394.42 L270.70,392.32 L270.95,390.67 L271.20,389.30 L271.45,388.78 L271.70,389.23 L271.95,389.91 L272.20,390.81 L272.45,392.20 L272.70,393.88 L272.95,395.84 L273.20,398.22 L273.45,400.80 L273.70,403.63 L273.95,406.68 L274.20,410.03 L274.45,413.64 L274.70,417.38 L274.95,421.27 L275.20,425.30 L275.45,429.39 L275.70,433.50 L275.95,437.68 L276.20,441.90 L276.45,446.12 L276.70,450.38 L276.95,454.65 L277.20,458.88 L277.45,463.09 L277.70,467.30 L277.95,471.49 L278.20,475.67 L278.45,479.84 L278.70,483.99 L278.95,488.13 L279.20,492.25 L279.45,496.38 L279.70,500.51 L279.95,504.64 L280.20,508.76 L280.45,512.88 L280.70,517.00 L280.95,521.13 L281.20,525.29 L281.45,529.48 L281.70,533.73 L281.95,538.03 L282.20,542.34 L282.45,546.64 L282.70,550.90 L282.95,555.09 L283.20,559.21 L283.45,563.30 L283.70,567.34 L283.95,571.31 L284.20,575.17 L284.45,578.89 L284.70,582.48 L284.95,585.96 L285.20,589.32 L285.45,592.61 L285.70,595.78 L285.95,598.75 L286.20,601.51 L286.45,604.08 L286.70,606.41 L286.95,608.55 L287.20,610.53 L287.45,612.38 L287.70,614.16 L287.95,615.61 L288.20,616.70 L288.45,617.50 L288.70,617.00 L288.95,616.14 L289.20,614.98 L289.45,613.26 L289.70,611.18 L289.95,608.58 L290.20,605.49 L290.45,601.95 L290.70,597.93 L290.95,593.58 L291.20,589.06 L291.45,584.36 L291.70,579.35 L291.95,574.14 L292.20,568.84 L292.45,563.56 L292.70,558.36 L292.95,553.12 L293.20,547.86 L293.45,542.58 L293.70,537.28 L293.95,531.98 L294.20,526.66 L294.45,521.31 L294.70,515.94 L294.95,510.59 L295.20,505.29 L295.45,500.07 L295.70,494.89 L295.95,489.76 L296.20,484.68 L296.45,479.68 L296.70,474.75 L296.95,469.88 L297.20,465.11 L297.45,460.54 L297.70,456.13 L297.95,451.87 L298.20,447.74 L298.45,443.77 L298.70,439.96 L298.95,436.25 L299.20,432.56 L299.45,428.85 L299.70,425.17 L299.95,421.52 L300.20,417.94 L300.45,414.41 L300.70,410.88 L300.95,407.50 L301.20,404.43 L301.45,401.68 L301.70,399.12 L301.95,396.67 L302.20,394.27 L302.45,392.24 L302.70,390.64 L302.95,389.32 L303.20,389.03 L303.45,389.53 L303.70,390.24 L303.95,391.21 L304.20,392.66 L304.45,394.37 L304.70,396.42 L304.95,398.84 L305.20,401.47 L305.45,404.34 L305.70,407.44 L305.95,410.85 L306.20,414.50 L306.45,418.26 L306.70,422.19 L306.95,426.24 L307.20,430.35 L307.45,434.48 L307.70,438.67 L307.95,442.90 L308.20,447.14 L308.45,451.42 L308.70,455.68 L308.95,459.92 L309.20,464.15 L309.45,468.36 L309.70,472.56 L309.95,476.75 L310.20,480.92 L310.45,485.08 L310.70,489.23 L310.95,493.36 L311.20,497.50 L311.45,501.64 L311.70,505.78 L311.95,509.91 L312.20,514.04 L312.45,518.17 L312.70,522.31 L312.95,526.49 L313.20,530.70 L313.45,534.97 L313.70,539.28 L313.95,543.60 L314.20,547.90 L314.45,552.16 L314.70,556.36 L314.95,560.48 L315.20,564.57 L315.45,568.61 L315.70,572.57 L315.95,576.42 L316.20,580.13 L316.45,583.71 L316.70,587.18 L316.95,590.54 L317.20,593.82 L317.45,596.97 L317.70,599.91 L317.95,602.64 L318.20,605.19 L318.45,607.49 L318.70,609.61 L318.95,611.57 L319.20,613.41 L319.45,615.16 L319.70,616.55 L319.95,617.60 L320.20,618.20 L320.45,617.63 L320.70,616.73 L320.95,615.49 L321.20,613.70 L321.45,611.55 L321.70,608.86 L321.95,605.71 L322.20,602.08 L322.45,598.00 L322.70,593.61 L322.95,589.07 L323.20,584.31 L323.45,579.27 L323.70,574.04 L323.95,568.73 L324.20,563.46 L324.45,558.26 L324.70,553.02 L324.95,547.75 L325.20,542.46 L325.45,537.17 L325.70,531.87 L325.95,526.54 L326.20,521.18 L326.45,515.81 L326.70,510.46 L326.95,505.18 L327.20,499.96 L327.45,494.79 L327.70,489.66 L327.95,484.60 L328.20,479.61 L328.45,474.69 L328.70,469.82 L328.95,465.08 L329.20,460.54 L329.45,456.15 L329.70,451.91 L329.95,447.81 L330.20,443.86 L330.45,440.07 L330.70,436.37 L330.95,432.68 L331.20,428.97 L331.45,425.29 L331.70,421.65 L331.95,418.08 L332.20,414.55 L332.45,411.03 L332.70,407.69 L332.95,404.68 L333.20,401.96 L333.45,399.43 L333.70,396.98 L333.95,394.61 L334.20,392.67 L334.45,391.10 L334.70,389.84 L334.95,389.79 L335.20,390.33 L335.45,391.06 L335.70,392.12 L335.95,393.63 L336.20,395.37 L336.45,397.51 L336.70,399.97 L336.95,402.63 L337.20,405.55 L337.45,408.70 L337.70,412.16 L337.95,415.84 L338.20,419.64 L338.45,423.60 L338.70,427.67 L338.95,431.78 L339.20,435.93 L339.45,440.15 L339.70,444.39 L339.95,448.64 L340.20,452.93 L340.45,457.20 L340.70,461.44 L340.95,465.67 L341.20,469.89 L341.45,474.10 L341.70,478.29 L341.95,482.47 L342.20,486.64 L342.45,490.79 L342.70,494.93 L342.95,499.07 L343.20,503.22 L343.45,507.37 L343.70,511.51 L343.95,515.64 L344.20,519.78 L344.45,523.94 L344.70,528.13 L344.95,532.36 L345.20,536.64 L345.45,540.96 L345.70,545.29 L345.95,549.60 L346.20,553.86 L346.45,558.05 L346.70,562.17 L346.95,566.26 L347.20,570.30 L347.45,574.26 L347.70,578.09 L347.95,581.79 L348.20,585.36 L348.45,588.81 L348.70,592.16 L348.95,595.43 L349.20,598.57 L349.45,601.47 L349.70,604.19 L349.95,606.70 L350.20,608.97 L350.45,611.07 L350.70,613.00 L350.95,614.85 L351.20,616.56 L351.45,617.88 L351.70,618.89 L351.95,619.29 L352.20,618.65 L352.45,617.71 L352.70,616.38 L352.95,614.52 L353.20,612.30 L353.45,609.52 L353.70,606.30 L353.95,602.58 L354.20,598.43 L354.45,594.00 L354.70,589.44 L354.95,584.62 L355.20,579.53 L355.45,574.27 L355.70,568.96 L355.95,563.70 L356.20,558.48 L356.45,553.23 L356.70,547.95 L356.95,542.65 L357.20,537.34 L357.45,532.03 L357.70,526.69 L357.95,521.32 L358.20,515.94 L358.45,510.60 L358.70,505.31 L358.95,500.10 L359.20,494.92 L359.45,489.80 L359.70,484.74 L359.95,479.76 L360.20,474.83 L360.45,469.98 L360.70,465.26 L360.95,460.73 L361.20,456.37 L361.45,452.14 L361.70,448.05 L361.95,444.13 L362.20,440.36 L362.45,436.65 L362.70,432.95 L362.95,429.24 L363.20,425.56 L363.45,421.92 L363.70,418.36 L363.95,414.82 L364.20,411.31 L364.45,408.01 L364.70,405.05 L364.95,402.36 L365.20,399.85 L365.45,397.39 L365.70,395.07 L365.95,393.21 L366.20,391.68 L366.45,390.48 L366.70,390.66 L366.95,391.25 L367.20,392.01 L367.45,393.16 L367.70,394.74 L367.95,396.54 L368.20,398.77 L368.45,401.28 L368.70,404.01 L368.95,407.00 L369.20,410.22 L369.45,413.76 L369.70,417.50 L369.95,421.35 L370.20,425.37 L370.45,429.50 L370.70,433.65 L370.95,437.85 L371.20,442.11 L371.45,446.40 L371.70,450.70 L371.95,455.02 L372.20,459.33 L372.45,463.61 L372.70,467.88 L372.95,472.14 L373.20,476.38 L373.45,480.62 L373.70,484.84 L373.95,489.04 L374.20,493.23 L374.45,497.41 L374.70,501.59 L374.95,505.78 L375.20,509.97 L375.45,514.14 L375.70,518.32 L375.95,522.50 L376.20,526.70 L376.45,530.93 L376.70,535.21 L376.95,539.55 L377.20,543.91 L377.45,548.28 L377.70,552.62 L377.95,556.92 L378.20,561.13 L378.45,565.29 L378.70,569.41 L378.95,573.48 L379.20,577.45 L379.45,581.30 L379.70,585.01 L379.95,588.60 L380.20,592.07 L380.45,595.44 L380.70,598.72 L380.95,601.85 L381.20,604.75 L381.45,607.46 L381.70,609.96 L381.95,612.22 L382.20,614.31 L382.45,616.24 L382.70,618.10 L382.95,619.78 L383.20,621.05 L383.45,622.02 L383.70,622.22 L383.95,621.51 L384.20,620.52 L384.45,619.08 L384.70,617.13 L384.95,614.81 L385.20,611.91 L385.45,608.59 L385.70,604.75 L385.95,600.50 L386.20,595.99 L386.45,591.36 L386.70,586.43 L386.95,581.25 L387.20,575.92 L387.45,570.55 L387.70,565.25 L387.95,559.97 L388.20,554.65 L388.45,549.31 L388.70,543.95 L388.95,538.59 L389.20,533.22 L389.45,527.81 L389.70,522.38 L389.95,516.94 L390.20,511.55 L390.45,506.22 L390.70,500.96 L390.95,495.73 L391.20,490.56 L391.45,485.46 L391.70,480.44 L391.95,475.46 L392.20,470.57 L392.45,465.83 L392.70,461.29 L392.95,456.89 L393.20,452.64 L393.45,448.54 L393.70,444.60 L393.95,440.80 L394.20,437.06 L394.45,433.31 L394.70,429.57 L394.95,425.85 L395.20,422.19 L395.45,418.59 L395.70,415.02 L395.95,411.49 L396.20,408.20 L396.45,405.26 L396.70,402.58 L396.95,400.06 L397.20,397.58 L397.45,395.28 L397.70,393.47 L397.95,391.97 L398.20,390.91 L398.45,391.23 L398.70,391.86 L398.95,392.64 L399.20,393.87 L399.45,395.49 L399.70,397.32 L399.95,399.60 L400.20,402.12 L400.45,404.89 L400.70,407.88 L400.95,411.13 L401.20,414.70 L401.45,418.43 L401.70,422.28 L401.95,426.30 L402.20,430.41 L402.45,434.54 L402.70,438.72 L402.95,442.96 L403.20,447.21 L403.45,451.49 L403.70,455.79 L403.95,460.07 L404.20,464.32 L404.45,468.56 L404.70,472.79 L404.95,477.00 L405.20,481.21 L405.45,485.39 L405.70,489.57 L405.95,493.73 L406.20,497.88 L406.45,502.04 L406.70,506.20 L406.95,510.36 L407.20,514.51 L407.45,518.65 L407.70,522.81 L407.95,526.99 L408.20,531.20 L408.45,535.46 L408.70,539.78 L408.95,544.12 L409.20,548.45 L409.45,552.76 L409.70,557.02 L409.95,561.19 L410.20,565.31 L410.45,569.41 L410.70,573.43 L410.95,577.37 L411.20,581.17 L411.45,584.83 L411.70,588.38 L411.95,591.81 L412.20,595.14 L412.45,598.39 L412.70,601.46 L412.95,604.31 L413.20,606.97 L413.45,609.41 L413.70,611.63 L413.95,613.68 L414.20,615.58 L414.45,617.41 L414.70,619.03 L414.95,620.23 L415.20,621.15 L415.45,621.13 L415.70,620.36 L415.95,619.34 L416.20,617.79 L416.45,615.78 L416.70,613.38 L416.95,610.40 L417.20,607.00 L417.45,603.08 L417.70,598.77 L417.95,594.23 L418.20,589.56 L418.45,584.59 L418.70,579.37 L418.95,574.02 L419.20,568.65 L419.45,563.35 L419.70,558.06 L419.95,552.74 L420.20,547.39 L420.45,542.03 L420.70,536.66 L420.95,531.28 L421.20,525.86 L421.45,520.42 L421.70,514.99 L421.95,509.59 L422.20,504.28 L422.45,499.01 L422.70,493.79 L422.95,488.62 L423.20,483.53 L423.45,478.51 L423.70,473.54 L423.95,468.67 L424.20,463.95 L424.45,459.43 L424.70,455.06 L424.95,450.83 L425.20,446.74 L425.45,442.83 L425.70,439.04 L425.95,435.30 L426.20,431.55 L426.45,427.80 L426.70,424.09 L426.95,420.43 L427.20,416.85 L427.45,413.26 L427.70,409.76 L427.95,406.52 L428.20,403.63 L428.45,400.97 L428.70,398.47 L428.95,395.99 L429.20,393.76 L429.45,392.02 L429.70,390.56 L429.95,389.73 L430.20,390.12 L430.45,390.77 L430.70,391.60 L430.95,392.91 L431.20,394.56 L431.45,396.45 L431.70,398.79 L431.95,401.33 L432.20,404.13 L432.45,407.16 L432.70,410.46 L432.95,414.05 L433.20,417.80 L433.45,421.68 L433.70,425.71 L433.95,429.81 L434.20,433.94 L434.45,438.13 L434.70,442.37 L434.95,446.62 L435.20,450.90 L435.45,455.19 L435.70,459.46 L435.95,463.70 L436.20,467.93 L436.45,472.15 L436.70,476.36 L436.95,480.56 L437.20,484.74 L437.45,488.90 L437.70,493.06 L437.95,497.21 L438.20,501.36 L438.45,505.52 L438.70,509.67 L438.95,513.81 L439.20,517.95 L439.45,522.11 L439.70,526.29 L439.95,530.49 L440.20,534.76 L440.45,539.07 L440.70,543.41 L440.95,547.74 L441.20,552.04 L441.45,556.27 L441.70,560.43 L441.95,564.54 L442.20,568.62 L442.45,572.63 L442.70,576.54 L442.95,580.31 L443.20,583.96 L443.45,587.48 L443.70,590.88 L443.95,594.20 L444.20,597.42 L444.45,600.46 L444.70,603.27 L444.95,605.90 L445.20,608.29 L445.45,610.48 L445.70,612.50 L445.95,614.38 L446.20,616.20 L446.45,617.75 L446.70,618.90 L446.95,619.77 L447.20,619.53 L447.45,618.72 L447.70,617.64 L447.95,616.02 L448.20,613.97 L448.45,611.49 L448.70,608.45 L448.95,604.99 L449.20,601.03 L449.45,596.70 L449.70,592.16 L449.95,587.48 L450.20,582.49 L450.45,577.28 L450.70,571.95 L450.95,566.62 L451.20,561.37 L451.45,556.10 L451.70,550.80 L451.95,545.49 L452.20,540.15 L452.45,534.82 L452.70,529.47 L452.95,524.07 L453.20,518.66 L453.45,513.27 L453.70,507.92 L453.95,502.64 L454.20,497.42 L454.45,492.24 L454.70,487.11 L454.95,482.06 L455.20,477.08 L455.45,472.15 L455.70,467.33 L455.95,462.67 L456.20,458.21 L456.45,453.88 L456.70,449.70 L456.95,445.66 L457.20,441.80 L457.45,438.05 L457.70,434.33 L457.95,430.60 L458.20,426.88 L458.45,423.20 L458.70,419.57 L458.95,416.02 L459.20,412.45 L459.45,409.00 L459.70,405.84 L459.95,403.01 L460.20,400.40 L460.45,397.92 L460.70,395.47 L460.95,393.33 L461.20,391.65 L461.45,390.26 L461.70,389.67 L461.95,390.11 L462.20,390.79 L462.45,391.67 L462.70,393.04 L462.95,394.72 L463.20,396.67 L463.45,399.04 L463.70,401.62 L463.95,404.44 L464.20,407.49 L464.45,410.84 L464.70,414.45 L464.95,418.19 L465.20,422.08 L465.45,426.12 L465.70,430.21 L465.95,434.33 L466.20,438.52 L466.45,442.74 L466.70,446.98 L466.95,451.25 L467.20,455.52 L467.45,459.76 L467.70,463.99 L467.95,468.20 L468.20,472.40 L468.45,476.59 L468.70,480.77 L468.95,484.93 L469.20,489.08 L469.45,493.21 L469.70,497.35 L469.95,501.48 L470.20,505.63 L470.45,509.76 L470.70,513.88 L470.95,518.01 L471.20,522.15 L471.45,526.32 L471.70,530.52 L471.95,534.78 L472.20,539.08 L472.45,543.40 L472.70,547.71 L472.95,551.98 L473.20,556.19 L473.45,560.32 L473.70,564.41 L473.95,568.47 L474.20,572.45 L474.45,576.32 L474.70,580.06 L474.95,583.66 L475.20,587.15 L475.45,590.53 L475.70,593.82 L475.95,597.01 L476.20,599.99 L476.45,602.76 L476.70,605.35 L476.95,607.70 L477.20,609.85 L477.45,611.84 L477.70,613.69 L477.95,615.48 L478.20,616.96 L478.45,618.06 L478.70,618.87 L478.95,618.43 L479.20,617.57 L479.45,616.43 L479.70,614.72 L479.95,612.64 L480.20,610.06 L480.45,606.96 L480.70,603.43 L480.95,599.41 L481.20,595.04 L481.45,590.50 L481.70,585.79 L481.95,580.77 L482.20,575.54 L482.45,570.22 L482.70,564.91 L482.95,559.68 L483.20,554.42 L483.45,549.14 L483.70,543.83 L483.95,538.51 L484.20,533.19 L484.45,527.84 L484.70,522.46 L484.95,517.06 L485.20,511.69 L485.45,506.36 L485.70,501.11 L485.95,495.91 L486.20,490.75 L486.45,485.65 L486.70,480.62 L486.95,475.66 L487.20,470.76 L487.45,465.97 L487.70,461.36 L487.95,456.93 L488.20,452.64 L488.45,448.49 L488.70,444.49 L488.95,440.66 L489.20,436.93 L489.45,433.22 L489.70,429.50 L489.95,425.79 L490.20,422.13 L490.45,418.52 L490.70,414.98 L490.95,411.43 L491.20,408.02 L491.45,404.93 L491.70,402.15 L491.95,399.57 L492.20,397.10 L492.45,394.69 L492.70,392.63 L492.95,391.00 L493.20,389.67 L493.45,389.32 L493.70,389.80 L493.95,390.50 L494.20,391.45 L494.45,392.88 L494.70,394.57 L494.95,396.60 L495.20,398.99 L495.45,401.59 L495.70,404.44 L495.95,407.52 L496.20,410.89 L496.45,414.52 L496.70,418.26 L496.95,422.16 L497.20,426.19 L497.45,430.27 L497.70,434.38 L497.95,438.55 L498.20,442.76 L498.45,446.98 L498.70,451.23 L498.95,455.48 L499.20,459.70 L499.45,463.90 L499.70,468.09 L499.95,472.27 L500.20,476.44 L500.45,480.60 L500.70,484.73 L500.95,488.86 L501.20,492.98 L501.45,497.09 L501.70,501.21 L501.95,505.33 L502.20,509.44 L502.45,513.54 L502.70,517.65 L502.95,521.78 L503.20,525.93 L503.45,530.12 L503.70,534.37 L503.95,538.65 L504.20,542.95 L504.45,547.23 L504.70,551.48 L504.95,555.65 L505.20,559.75 L505.45,563.82 L505.70,567.85 L505.95,571.80 L506.20,575.63 L506.45,579.33 L506.70,582.90 L506.95,586.35 L507.20,589.69 L507.45,592.96 L507.70,596.10 L507.95,599.04 L508.20,601.77 L508.45,604.31 L508.70,606.61 L508.95,608.72 L509.20,610.67 L509.45,612.51 L509.70,614.27 L509.95,615.66 L510.20,616.72 L510.45,617.37 L510.70,616.82 L510.95,615.92 L511.20,614.72 L511.45,612.94 L511.70,610.82 L511.95,608.17 L512.20,605.04 L512.45,601.45 L512.70,597.39 L512.95,593.03 L513.20,588.51 L513.45,583.79 L513.70,578.77 L513.95,573.56 L514.20,568.28 L514.45,563.03 L514.70,557.84 L514.95,552.62 L515.20,547.37 L515.45,542.11 L515.70,536.83 L515.95,531.55 L516.20,526.24 L516.45,520.90 L516.70,515.55 L516.95,510.23 L517.20,504.96 L517.45,499.76 L517.70,494.60 L517.95,489.49 L518.20,484.44 L518.45,479.48 L518.70,474.57 L518.95,469.72 L519.20,464.99 L519.45,460.45 L519.70,456.08 L519.95,451.85 L520.20,447.75 L520.45,443.81 L520.70,440.04 L520.95,436.35 L521.20,432.66 L521.45,428.97 L521.70,425.30 L521.95,421.68 L522.20,418.11 L522.45,414.60 L522.70,411.09 L522.95,407.75 L523.20,404.74 L523.45,402.02 L523.70,399.49 L523.95,397.05 L524.20,394.68 L524.45,392.73 L524.70,391.15 L524.95,389.89 L525.20,389.78 L525.45,390.31 L525.70,391.05 L525.95,392.09 L526.20,393.60 L526.45,395.35 L526.70,397.48 L526.95,399.95 L527.20,402.64 L527.45,405.57 L527.70,408.73 L527.95,412.21 L528.20,415.92 L528.45,419.74 L528.70,423.73 L528.95,427.84 L529.20,431.99 L529.45,436.17 L529.70,440.42 L529.95,444.69 L530.20,448.98 L530.45,453.30 L530.70,457.61 L530.95,461.89 L531.20,466.16 L531.45,470.42 L531.70,474.66 L531.95,478.89 L532.20,483.11 L532.45,487.31 L532.70,491.50 L532.95,495.68 L533.20,499.86 L533.45,504.04 L533.70,508.23 L533.95,512.40 L534.20,516.57 L534.45,520.75 L534.70,524.94 L534.95,529.16 L535.20,533.43 L535.45,537.75 L535.70,542.11 L535.95,546.47 L536.20,550.82 L536.45,555.12 L536.70,559.35 L536.95,563.51 L537.20,567.64 L537.45,571.72 L537.70,575.71 L537.95,579.58 L538.20,583.31 L538.45,586.92 L538.70,590.41 L538.95,593.79 L539.20,597.10 L539.45,600.26 L539.70,603.20 L539.95,605.95 L540.20,608.49 L540.45,610.79 L540.70,612.91 L540.95,614.87 L541.20,616.73 L541.45,618.47 L541.70,619.82 L541.95,620.85 L542.20,621.31 L542.45,620.68 L542.70,619.74 L542.95,618.43 L543.20,616.56 L543.45,614.35 L543.70,611.56 L543.95,608.33 L544.20,604.61 L544.45,600.44 L544.70,595.98 L544.95,591.39 L545.20,586.55 L545.45,581.42 L545.70,576.13 L545.95,570.78 L546.20,565.47 L546.45,560.21 L546.70,554.92 L546.95,549.60 L547.20,544.26 L547.45,538.91 L547.70,533.56 L547.95,528.18 L548.20,522.76 L548.45,517.34 L548.70,511.96 L548.95,506.63 L549.20,501.37 L549.45,496.15 L549.70,490.98 L549.95,485.88 L550.20,480.86 L550.45,475.89 L550.70,470.99 L550.95,466.23 L551.20,461.67 L551.45,457.26 L551.70,452.99 L551.95,448.87 L552.20,444.91 L552.45,441.10 L552.70,437.37 L552.95,433.63 L553.20,429.89 L553.45,426.18 L553.70,422.52 L553.95,418.92 L554.20,415.36 L554.45,411.82 L554.70,408.47 L554.95,405.48 L555.20,402.76 L555.45,400.22 L555.70,397.75 L555.95,395.39 L556.20,393.50 L556.45,391.95 L556.70,390.72 L556.95,390.84 L557.20,391.42 L557.45,392.17 L557.70,393.30 L557.95,394.86 L558.20,396.64 L558.45,398.85 L558.70,401.34 L558.95,404.06 L559.20,407.02 L559.45,410.22 L559.70,413.74 L559.95,417.47 L560.20,421.30 L560.45,425.31 L560.70,429.41 L560.95,433.56 L561.20,437.74 L561.45,441.99 L561.70,446.26 L561.95,450.54 L562.20,454.86 L562.45,459.15 L562.70,463.42 L562.95,467.68 L563.20,471.92 L563.45,476.16 L563.70,480.38 L563.95,484.58 L564.20,488.77 L564.45,492.95 L564.70,497.12 L564.95,501.29 L565.20,505.46 L565.45,509.64 L565.70,513.80 L565.95,517.97 L566.20,522.14 L566.45,526.32 L566.70,530.54 L566.95,534.80 L567.20,539.12 L567.45,543.48 L567.70,547.83 L567.95,552.16 L568.20,556.45 L568.45,560.65 L568.70,564.79 L568.95,568.91 L569.20,572.97 L569.45,576.93 L569.70,580.78 L569.95,584.48 L570.20,588.06 L570.45,591.52 L570.70,594.88 L570.95,598.17 L571.20,601.29 L571.45,604.19 L571.70,606.90 L571.95,609.40 L572.20,611.67 L572.45,613.75 L572.70,615.69 L572.95,617.54 L573.20,619.23 L573.45,620.51 L573.70,621.49 L573.95,621.74 L574.20,621.04 L574.45,620.06 L574.70,618.64 L574.95,616.70 L575.20,614.40 L575.45,611.51 L575.70,608.20 L575.95,604.37 L576.20,600.12 L576.45,595.61 L576.70,590.97 L576.95,586.04 L577.20,580.86 L577.45,575.51 L577.70,570.13 L577.95,564.81 L578.20,559.52 L578.45,554.19 L578.70,548.84 L578.95,543.47 L579.20,538.09 L579.45,532.70 L579.70,527.28 L579.95,521.83 L580.20,516.39 L580.45,510.98 L580.70,505.63 L580.95,500.35 L581.20,495.11 L581.45,489.92 L581.70,484.81 L581.95,479.77 L582.20,474.78 L582.45,469.87 L582.70,465.11 L582.95,460.55 L583.20,456.14 L583.45,451.87 L583.70,447.75 L583.95,443.79 L584.20,439.98 L584.45,436.23 L584.70,432.47 L584.95,428.72 L585.20,424.99 L585.45,421.31 L585.70,417.71 L585.95,414.12 L586.20,410.58 L586.45,407.27 L586.70,404.31 L586.95,401.61 L587.20,399.08 L587.45,396.59 L587.70,394.28 L587.95,392.45 L588.20,390.93 L588.45,389.80 L588.70,390.12 L588.95,390.73 L589.20,391.51 L589.45,392.73 L589.70,394.33 L589.95,396.16 L590.20,398.44 L590.45,400.96 L590.70,403.72 L590.95,406.73 L591.20,409.98 L591.45,413.54 L591.70,417.29 L591.95,421.15 L592.20,425.17 L592.45,429.29 L592.70,433.44 L592.95,437.64 L593.20,441.89 L593.45,446.16 L593.70,450.46 L593.95,454.77 L594.20,459.06 L594.45,463.33 L594.70,467.59 L594.95,471.84 L595.20,476.07 L595.45,480.29 L595.70,484.49 L595.95,488.68 L596.20,492.86 L596.45,497.03 L596.70,501.21 L596.95,505.38 L597.20,509.56 L597.45,513.72 L597.70,517.89 L597.95,522.06 L598.20,526.26 L598.45,530.48 L598.70,534.75 L598.95,539.08 L599.20,543.44 L599.45,547.79 L599.70,552.12 L599.95,556.40 L600.20,560.59 L600.45,564.73 L600.70,568.84 L600.95,572.89 L601.20,576.84 L601.45,580.66 L601.70,584.35 L601.95,587.91 L602.20,591.35 L602.45,594.70 L602.70,597.97 L602.95,601.07 L603.20,603.93 L603.45,606.61 L603.70,609.07 L603.95,611.31 L604.20,613.37 L604.45,615.28 L604.70,617.12 L604.95,618.76 L605.20,619.98 L605.45,620.92 L605.70,620.95 L605.95,620.20 L606.20,619.19 L606.45,617.67 L606.70,615.68 L606.95,613.30 L607.20,610.34 L607.45,606.96 L607.70,603.07 L607.95,598.78 L608.20,594.25 L608.45,589.60 L608.70,584.64 L608.95,579.44 L609.20,574.10 L609.45,568.73 L609.70,563.44 L609.95,558.16 L610.20,552.84 L610.45,547.50 L610.70,542.14 L610.95,536.78 L611.20,531.41 L611.45,526.00 L611.70,520.57 L611.95,515.14 L612.20,509.75 L612.45,504.44 L612.70,499.18 L612.95,493.96 L613.20,488.80 L613.45,483.71 L613.70,478.70 L613.95,473.73 L614.20,468.86 L614.45,464.14 L614.70,459.62 L614.95,455.25 L615.20,451.02 L615.45,446.93 L615.70,443.01 L615.95,439.23 L616.20,435.49 L616.45,431.74 L616.70,428.00 L616.95,424.29 L617.20,420.64 L617.45,417.05 L617.70,413.48 L617.95,409.97 L618.20,406.72 L618.45,403.82 L618.70,401.16 L618.95,398.66 L619.20,396.18 L619.45,393.94 L619.70,392.18 L619.95,390.72 L620.20,389.83 L620.45,390.20 L620.70,390.84 L620.95,391.66 L621.20,392.95 L621.45,394.59 L621.70,396.46 L621.95,398.78 L622.20,401.32 L622.45,404.11 L622.70,407.13 L622.95,410.41 L623.20,413.99 L623.45,417.73 L623.70,421.60 L623.95,425.63 L624.20,429.73 L624.45,433.86 L624.70,438.04 L624.95,442.28 L625.20,446.53 L625.45,450.80 L625.70,455.09 L625.95,459.36 L626.20,463.60 L626.45,467.83 L626.70,472.05 L626.95,476.26 L627.20,480.45 L627.45,484.63 L627.70,488.79 L627.95,492.95 L628.20,497.09 L628.45,501.24 L628.70,505.40 L628.95,509.55 L629.20,513.69 L629.45,517.83 L629.70,521.98 L629.95,526.16 L630.20,530.36 L630.45,534.63 L630.70,538.94 L630.95,543.27 L631.20,547.60 L631.45,551.89 L631.70,556.13 L631.95,560.29 L632.20,564.40 L632.45,568.48 L632.70,572.49 L632.95,576.40 L633.20,580.18 L633.45,583.83 L633.70,587.35 L633.95,590.76 L634.20,594.08 L634.45,597.31 L634.70,600.35 L634.95,603.17 L635.20,605.80 L635.45,608.21 L635.70,610.40 L635.95,612.43 L636.20,614.31 L636.45,616.13 L636.70,617.70 L636.95,618.86 L637.20,619.74 L637.45,619.56 L637.70,618.76 L637.95,617.70 L638.20,616.09 L638.45,614.06 L638.70,611.60 L638.95,608.58 L639.20,605.14 L639.45,601.19 L639.70,596.88 L639.95,592.35 L640.20,587.68 L640.45,582.70 L640.70,577.49 L640.95,572.16 L641.20,566.83 L641.45,561.58 L641.70,556.31 L641.95,551.02 L642.20,545.70 L642.45,540.37 L642.70,535.03 L642.95,529.68 L643.20,524.29 L643.45,518.88 L643.70,513.48 L643.95,508.13 L644.20,502.85 L644.45,497.63 L644.70,492.44 L644.95,487.31 L645.20,482.26 L645.45,477.28 L645.70,472.35 L645.95,467.52 L646.20,462.86 L646.45,458.38 L646.70,454.05 L646.95,449.86 L647.20,445.82 L647.45,441.95 L647.70,438.20 L647.95,434.48 L648.20,430.75 L648.45,427.03 L648.70,423.34 L648.95,419.71 L649.20,416.16 L649.45,412.60 L649.70,409.13 L649.95,405.96 L650.20,403.12 L650.45,400.50 L650.70,398.02 L650.95,395.57 L651.20,393.40 L651.45,391.71 L651.70,390.31 L651.95,389.66 L652.20,390.08 L652.45,390.76 L652.70,391.63 L652.95,392.99 L653.20,394.67 L653.45,396.61 L653.70,398.99 L653.95,401.56 L654.20,404.39 L654.45,407.45 L654.70,410.79 L654.95,414.41 L655.20,418.16 L655.45,422.07 L655.70,426.11 L655.95,430.23 L656.20,434.36 L656.45,438.56 L656.70,442.81 L656.95,447.06 L657.20,451.34 L657.45,455.64 L657.70,459.90 L657.95,464.14 L658.20,468.37 L658.45,472.60 L658.70,476.80 L658.95,481.00 L659.20,485.18 L659.45,489.34 L659.70,493.50 L659.95,497.65 L660.20,501.81 L660.45,505.96 L660.70,510.11 L660.95,514.26 L661.20,518.41 L661.45,522.57 L661.70,526.75 L661.95,530.96 L662.20,535.24 L662.45,539.56 L662.70,543.90 L662.95,548.23 L663.20,552.52 L663.45,556.75 L663.70,560.90 L663.95,565.01 L664.20,569.09 L664.45,573.09 L664.70,576.98 L664.95,580.74 L665.20,584.37 L665.45,587.88 L665.70,591.27 L665.95,594.58 L666.20,597.79 L666.45,600.80 L666.70,603.59 L666.95,606.19 L667.20,608.56 L667.45,610.73 L667.70,612.73 L667.95,614.60 L668.20,616.40 L668.45,617.90 L668.70,619.02 L668.95,619.85 L669.20,619.45 L669.45,618.60 L669.70,617.48 L669.95,615.79 L670.20,613.71 L670.45,611.15 L670.70,608.06 L670.95,604.54 L671.20,600.52 L671.45,596.16 L671.70,591.61 L671.95,586.90 L672.20,581.88 L672.45,576.64 L672.70,571.31 L672.95,565.98 L673.20,560.74 L673.45,555.47 L673.70,550.17 L673.95,544.85 L674.20,539.51 L674.45,534.17 L674.70,528.82 L674.95,523.42 L675.20,518.01 L675.45,512.62 L675.70,507.28 L675.95,502.02 L676.20,496.79 L676.45,491.62 L676.70,486.50 L676.95,481.46 L677.20,476.49 L677.45,471.57 L677.70,466.76 L677.95,462.13 L678.20,457.68 L678.45,453.37 L678.70,449.21 L678.95,445.19 L679.20,441.34 L679.45,437.60 L679.70,433.88 L679.95,430.15 L680.20,426.44 L680.45,422.76 L680.70,419.14 L680.95,415.59 L681.20,412.03 L681.45,408.60 L681.70,405.48 L681.95,402.69 L682.20,400.10 L682.45,397.62 L682.70,395.19 L682.95,393.11 L683.20,391.47 L683.45,390.12 L683.70,389.70 L683.95,390.18 L684.20,390.88 L684.45,391.81 L684.70,393.23 L684.95,394.92 L685.20,396.93 L685.45,399.33 L685.70,401.93 L685.95,404.78 L686.20,407.86 L686.45,411.24 L686.70,414.87 L686.95,418.62 L687.20,422.53 L687.45,426.57 L687.70,430.67 L687.95,434.79 L688.20,438.98 L688.45,443.20 L688.70,447.44 L688.95,451.71 L689.20,455.97 L689.45,460.21 L689.70,464.43 L689.95,468.64 L690.20,472.83 L690.45,477.02 L690.70,481.19 L690.95,485.35 L691.20,489.49 L691.45,493.62 L691.70,497.75 L691.95,501.88 L692.20,506.02 L692.45,510.15 L692.70,514.27 L692.95,518.40 L693.20,522.54 L693.45,526.70 L693.70,530.90 L693.95,535.17 L694.20,539.47 L694.45,543.78 L694.70,548.09 L694.95,552.35 L695.20,556.54 L695.45,560.66 L695.70,564.75 L695.95,568.79 L696.20,572.76 L696.45,576.61 L696.70,580.33 L696.95,583.92 L697.20,587.39 L697.45,590.75 L697.70,594.03 L697.95,597.20 L698.20,600.15 L698.45,602.90 L698.70,605.46 L698.95,607.78 L699.20,609.91 L699.45,611.87 L699.70,613.72 L699.95,615.49 L700.20,616.91 L700.45,617.98 L700.70,618.68 L700.95,618.14 L701.20,617.26 L701.45,616.07 L701.70,614.31 L701.95,612.19 L702.20,609.55 L702.45,606.43 L702.70,602.85 L702.95,598.79 L703.20,594.42 L703.45,589.89 L703.70,585.16 L703.95,580.14 L704.20,574.92 L704.45,569.62 L704.70,564.34 L704.95,559.14 L705.20,553.90 L705.45,548.64 L705.70,543.35 L705.95,538.06 L706.20,532.76 L706.45,527.44 L706.70,522.08 L706.95,516.71 L707.20,511.36 L707.45,506.07 L707.70,500.85 L707.95,495.68 L708.20,490.55 L708.45,485.48 L708.70,480.49 L708.95,475.56 L709.20,470.69 L709.45,465.94 L709.70,461.38 L709.95,456.98 L710.20,452.73 L710.45,448.62 L710.70,444.66 L710.95,440.86 L711.20,437.16 L711.45,433.46 L711.70,429.76 L711.95,426.08 L712.20,422.43 L712.45,418.86 L712.70,415.33 L712.95,411.81 L713.20,408.44 L713.45,405.40 L713.70,402.67 L713.95,400.12 L714.20,397.67 L714.45,395.29 L714.70,393.31 L714.95,391.72 L715.20,390.43 L715.45,390.26 L715.70,390.79 L715.95,391.51 L716.20,392.54 L716.45,394.03 L716.70,395.77 L716.95,397.89 L717.20,400.35 L717.45,403.02 L717.70,405.95 L717.95,409.10 L718.20,412.57 L718.45,416.27 L718.70,420.09 L718.95,424.07 L719.20,428.17 L719.45,432.32 L719.70,436.50 L719.95,440.74 L720.20,445.02 L720.45,449.31 L720.70,453.63 L720.95,457.94 L721.20,462.22 L721.45,466.49 L721.70,470.75 L721.95,474.99 L722.20,479.23 L722.45,483.44 L722.70,487.65 L722.95,491.83 L723.20,496.01 L723.45,500.19 L723.70,504.38 L723.95,508.56 L724.20,512.73 L724.45,516.91 L724.70,521.08 L724.95,525.28 L725.20,529.49 L725.45,533.76 L725.70,538.08 L725.95,542.43 L726.20,546.80 L726.45,551.15 L726.70,555.45 L726.95,559.68 L727.20,563.84 L727.45,567.97 L727.70,572.05 L727.95,576.05 L728.20,579.93 L728.45,583.67 L728.70,587.28 L728.95,590.77 L729.20,594.16 L729.45,597.47 L729.70,600.64 L729.95,603.59 L730.20,606.34 L730.45,608.89 L730.70,611.21 L730.95,613.33 L731.20,615.30 L731.45,617.16 L731.70,618.91 L731.95,620.27 L732.20,621.31 L732.45,621.82 L732.70,621.21 L732.95,620.27 L733.20,618.98 L733.45,617.13 L733.70,614.93 L733.95,612.15 L734.20,608.93 L734.45,605.22 L734.70,601.05 L734.95,596.59 L735.20,591.99 L735.45,587.14 L735.70,582.01 L735.95,576.71 L736.20,571.34 L736.45,566.01 L736.70,560.74 L736.95,555.43 L737.20,550.09 L737.45,544.74 L737.70,539.38 L737.95,534.01 L738.20,528.61 L738.45,523.18 L738.70,517.75 L738.95,512.34 L739.20,506.99 L739.45,501.72 L739.70,496.48 L739.95,491.30 L740.20,486.17 L740.45,481.14 L740.70,476.15 L740.95,471.23 L741.20,466.45 L741.45,461.86 L741.70,457.43 L741.95,453.15 L742.20,449.01 L742.45,445.03 L742.70,441.20 L742.95,437.46 L743.20,433.71 L743.45,429.96 L743.70,426.24 L743.95,422.56 L744.20,418.95 L744.45,415.38 L744.70,411.82 L744.95,408.46 L745.20,405.44 L745.45,402.70 L745.70,400.15 L745.95,397.67 L746.20,395.30 L746.45,393.37 L746.70,391.81 L746.95,390.56 L747.20,390.62 L747.45,391.19 L747.70,391.94 L747.95,393.05 L748.20,394.59 L748.45,396.37 L748.70,398.56 L748.95,401.05 L749.20,403.76 L749.45,406.71 L749.70,409.91 L749.95,413.42 L750.20,417.14 L750.45,420.97 L750.70,424.97 L750.95,429.08 L751.20,433.23 L751.45,437.41 L751.70,441.66 L751.95,445.93 L752.20,450.22 L752.45,454.54 L752.70,458.84 L752.95,463.11 L753.20,467.37 L753.45,471.62 L753.70,475.86 L753.95,480.09 L754.20,484.30 L754.45,488.49 L754.70,492.67 L754.95,496.84 L755.20,501.02 L755.45,505.20 L755.70,509.37 L755.95,513.54 L756.20,517.71 L756.45,521.88 L756.70,526.07 L756.95,530.29 L757.20,534.56 L757.45,538.88 L757.70,543.23 L757.95,547.59 L758.20,551.93 L758.45,556.22 L758.70,560.43 L758.95,564.58 L759.20,568.70 L759.45,572.76 L759.70,576.74 L759.95,580.59 L760.20,584.30 L760.45,587.89 L760.70,591.36 L760.95,594.73 L761.20,598.02 L761.45,601.15 L761.70,604.06 L761.95,606.78 L762.20,609.29 L762.45,611.57 L762.70,613.67 L762.95,615.61 L763.20,617.46 L763.45,619.17 L763.70,620.46 L763.95,621.46 L764.20,621.76 L764.45,621.08 L764.70,620.11 L764.95,618.72 L765.20,616.80 L765.45,614.53 L765.70,611.67 L765.95,608.38 L766.20,604.59 L766.45,600.37 L766.70,595.88 L766.95,591.26 L767.20,586.37 L767.45,581.21 L767.70,575.89 L767.95,570.52 L768.20,565.22 L768.45,559.94 L768.70,554.64 L768.95,549.30 L769.20,543.95 L769.45,538.59 L769.70,533.23 L769.95,527.83 L770.20,522.40 L770.45,516.97 L770.70,511.57 L770.95,506.24 L771.20,500.98 L771.45,495.76 L771.70,490.59 L771.95,485.48 L772.20,480.46 L772.45,475.48 L772.70,470.59 L772.95,465.84 L773.20,461.28 L773.45,456.88 L773.70,452.62 L773.95,448.51 L774.20,444.56 L774.45,440.76 L774.70,437.02 L774.95,433.27 L775.20,429.53 L775.45,425.82 L775.70,422.15 L775.95,418.55 L776.20,414.98 L776.45,411.45 L776.70,408.13 L776.95,405.17 L777.20,402.47 L777.45,399.95 L777.70,397.47 L777.95,395.15 L778.20,393.30 L778.45,391.78 L778.70,390.60 L778.95,390.90 L779.20,391.51 L779.45,392.28 L779.70,393.48 L779.95,395.09 L780.20,396.91 L780.45,399.18 L780.70,401.71 L780.95,404.47 L781.20,407.48 L781.45,410.74 L781.70,414.31 L781.95,418.06 L782.20,421.94 L782.45,425.98 L782.70,430.12 L782.95,434.28 L783.20,438.50 L783.45,442.77 L783.70,447.06 L783.95,451.37 L784.20,455.71 L784.45,460.02 L784.70,464.31 L784.95,468.59 L785.20,472.86 L785.45,477.11 L785.70,481.35 L785.95,485.58 L786.20,489.79 L786.45,493.98 L786.70,498.18 L786.95,502.37 L787.20,506.56 L787.45,510.76 L787.70,514.94 L787.95,519.13 L788.20,523.32 L788.45,527.53 L788.70,531.78 L788.95,536.07 L789.20,540.42 L789.45,544.79 L789.70,549.17 L789.95,553.52 L790.20,557.82 L790.45,562.03 L790.70,566.20 L790.95,570.33 L791.20,574.40 L791.45,578.37 L791.70,582.22 L791.95,585.92 L792.20,589.51 L792.45,592.98 L792.70,596.34 L792.95,599.63 L793.20,602.75 L793.45,605.63 L793.70,608.34 L793.95,610.82 L794.20,613.07 L794.45,615.15 L794.70,617.08 L794.95,618.93 L795.20,620.59 L795.45,621.83 L795.70,622.79 L795.95,622.87 L796.20,622.13 L796.45,621.12 L796.70,619.62 L796.95,617.63 L797.20,615.27 L797.45,612.31 L797.70,608.93 L797.95,605.04 L798.20,600.74 L798.45,596.20 L798.70,591.52 L798.95,586.55 L799.20,581.33 L799.45,575.97 L799.70,570.57 L799.95,565.25 L800.20,559.94 L800.45,554.60 L800.70,549.23 L800.95,543.85 L801.20,538.46 L801.45,533.06 L801.70,527.63 L801.95,522.16 L802.20,516.71 L802.45,511.29 L802.70,505.94 L802.95,500.66 L803.20,495.41 L803.45,490.22 L803.70,485.10 L803.95,480.06 L804.20,475.07 L804.45,470.16 L804.70,465.41 L804.95,460.86 L805.20,456.46 L805.45,452.20 L805.70,448.09 L805.95,444.14 L806.20,440.34 L806.45,436.58 L806.70,432.81 L806.95,429.05 L807.20,425.32 L807.45,421.64 L807.70,418.04 L807.95,414.44 L808.20,410.91 L808.45,407.63 L808.70,404.71 L808.95,402.02 L809.20,399.50 L809.45,397.01 L809.70,394.74 L809.95,392.96 L810.20,391.47 L810.45,390.52 L810.70,390.88 L810.95,391.52 L811.20,392.33 L811.45,393.60 L811.70,395.23 L811.95,397.10 L812.20,399.42 L812.45,401.96 L812.70,404.74 L812.95,407.76 L813.20,411.05 L813.45,414.63 L813.70,418.38 L813.95,422.26 L814.20,426.29 L814.45,430.40 L814.70,434.54 L814.95,438.74 L815.20,442.99 L815.45,447.25 L815.70,451.54 L815.95,455.85 L816.20,460.13 L816.45,464.38 L816.70,468.63 L816.95,472.87 L817.20,477.09 L817.45,481.30 L817.70,485.49 L817.95,489.67 L818.20,493.84 L818.45,498.00 L818.70,502.16 L818.95,506.33 L819.20,510.50 L819.45,514.65 L819.70,518.81 L819.95,522.98 L820.20,527.16 L820.45,531.38 L820.70,535.66 L820.95,539.98 L821.20,544.33 L821.45,548.67 L821.70,552.99 L821.95,557.24 L822.20,561.42 L822.45,565.55 L822.70,569.64 L822.95,573.67 L823.20,577.60 L823.45,581.40 L823.70,585.06 L823.95,588.60 L824.20,592.02 L824.45,595.36 L824.70,598.60 L824.95,601.66 L825.20,604.50 L825.45,607.15 L825.70,609.58 L825.95,611.78 L826.20,613.82 L826.45,615.71 L826.70,617.55 L826.95,619.14 L827.20,620.31 L827.45,621.21 L827.70,621.08 L827.95,620.29 L828.20,619.24 L828.45,617.64 L828.70,615.61 L828.95,613.16 L829.20,610.15 L829.45,606.71 L829.70,602.76 L829.95,598.43 L830.20,593.88 L830.45,589.19 L830.70,584.19 L830.95,578.96 L831.20,573.61 L831.45,568.24 L831.70,562.96 L831.95,557.67 L832.20,552.34 L832.45,546.99 L832.70,541.63 L832.95,536.26 L833.20,530.89 L833.45,525.47 L833.70,520.03 L833.95,514.60 L834.20,509.21 L834.45,503.90 L834.70,498.65 L834.95,493.43 L835.20,488.27 L835.45,483.19 L835.70,478.18 L835.95,473.21 L836.20,468.35 L836.45,463.65 L836.70,459.15 L836.95,454.79 L837.20,450.57 L837.45,446.50 L837.70,442.60 L837.95,438.82 L838.20,435.08 L838.45,431.33 L838.70,427.59 L838.95,423.88 L839.20,420.23 L839.45,416.65 L839.70,413.07 L839.95,409.58 L840.20,406.37 L840.45,403.50 L840.70,400.87 L840.95,398.37 L841.20,395.90 L841.45,393.70 L841.70,391.99 L841.95,390.56 L842.20,389.85 L842.45,390.26 L842.70,390.93 L842.95,391.79 L843.20,393.13 L843.45,394.80 L843.70,396.72 L843.95,399.08 L844.20,401.65 L844.45,404.47 L844.70,407.51 L844.95,410.84 L845.20,414.45 L845.45,418.20 L845.70,422.09 L845.95,426.13 L846.20,430.24 L846.45,434.38 L846.70,438.57 L846.95,442.81 L847.20,447.06 L847.45,451.35 L847.70,455.64 L847.95,459.90 L848.20,464.14 L848.45,468.37 L848.70,472.59 L848.95,476.80 L849.20,480.99 L849.45,485.17 L849.70,489.33 L849.95,493.49 L850.20,497.64 L850.45,501.79 L850.70,505.95 L850.95,510.10 L851.20,514.24 L851.45,518.38 L851.70,522.54 L851.95,526.72 L852.20,530.93 L852.45,535.20 L852.70,539.52 L852.95,543.86 L853.20,548.18 L853.45,552.48 L853.70,556.71 L853.95,560.86 L854.20,564.97 L854.45,569.05 L854.70,573.05 L854.95,576.95 L855.20,580.71 L855.45,584.34 L855.70,587.85 L855.95,591.25 L856.20,594.56 L856.45,597.77 L856.70,600.79 L856.95,603.58 L857.20,606.20 L857.45,608.58 L857.70,610.75 L857.95,612.76 L858.20,614.63 L858.45,616.43 L858.70,617.95 L858.95,619.08 L859.20,619.92 L859.45,619.58 L859.70,618.74 L859.95,617.64 L860.20,615.97 L860.45,613.91 L860.70,611.37 L860.95,608.31 L861.20,604.81 L861.45,600.82 L861.70,596.47 L861.95,591.93 L862.20,587.24 L862.45,582.23 L862.70,577.01 L862.95,571.69 L863.20,566.37 L863.45,561.12 L863.70,555.86 L863.95,550.57 L864.20,545.26 L864.45,539.93 L864.70,534.60 L864.95,529.25 L865.20,523.86 L865.45,518.46 L865.70,513.08 L865.95,507.74 L866.20,502.48 L866.45,497.26 L866.70,492.09 L866.95,486.98 L867.20,481.94 L867.45,476.97 L867.70,472.06 L867.95,467.25 L868.20,462.62 L868.45,458.17 L868.70,453.86 L868.95,449.69 L869.20,445.67 L869.45,441.83 L869.70,438.09 L869.95,434.37 L870.20,430.65 L870.45,426.93 L870.70,423.26 L870.95,419.65 L871.20,416.10 L871.45,412.54 L871.70,409.11 L871.95,405.98 L872.20,403.18 L872.45,400.58 L872.70,398.11 L872.95,395.68 L873.20,393.58 L873.45,391.93 L873.70,390.56 L873.95,390.09 L874.20,390.55 L874.45,391.25 L874.70,392.17 L874.95,393.58 L875.20,395.27 L875.45,397.27 L875.70,399.67 L875.95,402.27 L876.20,405.12 L876.45,408.20 L876.70,411.58 L876.95,415.22 L877.20,418.99 L877.45,422.90 L877.70,426.95 L877.95,431.07 L878.20,435.20 L878.45,439.41 L878.70,443.65 L878.95,447.90 L879.20,452.18 L879.45,456.46 L879.70,460.71 L879.95,464.95 L880.20,469.18 L880.45,473.39 L880.70,477.59 L880.95,481.78 L881.20,485.96 L881.45,490.11 L881.70,494.26 L881.95,498.41 L882.20,502.56 L882.45,506.71 L882.70,510.85 L882.95,514.99 L883.20,519.14 L883.45,523.29 L883.70,527.47 L883.95,531.69 L884.20,535.97 L884.45,540.28 L884.70,544.62 L884.95,548.94 L885.20,553.22 L885.45,557.43 L885.70,561.57 L885.95,565.68 L886.20,569.74 L886.45,573.72 L886.70,577.60 L886.95,581.33 L887.20,584.94 L887.45,588.43 L887.70,591.81 L887.95,595.11 L888.20,598.29 L888.45,601.26 L888.70,604.03 L888.95,606.61 L889.20,608.95 L889.45,611.09 L889.70,613.07 L889.95,614.93 L890.20,616.71 L890.45,618.15 L890.70,619.23 L890.95,619.99 L891.20,619.49 L891.45,618.65 L891.70,617.56 L891.95,615.94 L892.20,613.94 L892.45,611.53 L892.70,608.60 L892.95,605.29 L893.20,601.50 L893.45,597.35 L893.70,592.98 L893.95,588.50 L894.20,583.74 L894.45,578.75 L894.70,573.61 L894.95,568.42 L895.20,563.29 L895.45,558.20 L895.70,553.08 L895.95,547.93 L896.20,542.77 L896.45,537.59 L896.70,532.42 L896.95,527.22 L897.20,521.98 L897.45,516.73 L897.70,511.50 L897.95,506.32 L898.20,501.20 L898.45,496.13 L898.70,491.10 L898.95,486.12 L899.20,481.21 L899.45,476.37 L899.70,471.57 L899.95,466.85 L900.20,462.27 L900.45,457.88 L900.70,453.62 L900.95,449.50 L901.20,445.51 L901.45,441.67 L901.70,437.98 L901.95,434.36 L902.20,430.75 L902.45,427.13 L902.70,423.53 L902.95,419.96 L903.20,416.45 L903.45,413.01 L903.70,409.55 L903.95,406.21 L904.20,403.13 L904.45,400.36 L904.70,397.81 L904.95,395.40 L905.20,393.01 L905.45,390.82 L905.50,390.43" stroke="#1f77b4" stroke-width="3.2"/>
<path d="M116.10,460.14 L116.35,459.07 L116.60,457.54 L116.85,455.67 L117.10,453.60 L117.35,451.44 L117.60,449.29 L117.85,447.20 L118.10,445.19 L118.35,443.23 L118.60,441.38 L118.85,439.76 L119.10,438.42 L119.35,437.33 L119.60,436.34 L119.85,435.36 L120.10,434.34 L120.35,433.27 L120.60,432.18 L120.85,431.09 L121.10,429.99 L121.35,428.90 L121.60,427.80 L121.85,426.70 L122.10,425.61 L122.35,424.51 L122.60,423.41 L122.85,422.32 L123.10,421.22 L123.35,420.12 L123.60,419.03 L123.85,417.93 L124.10,416.83 L124.35,415.74 L124.60,414.64 L124.85,413.54 L125.10,412.45 L125.35,411.35 L125.60,410.25 L125.85,409.16 L126.10,408.06 L126.35,406.96 L126.60,405.87 L126.85,404.79 L127.10,403.75 L127.35,402.83 L127.60,402.09 L127.85,401.56 L128.10,401.24 L128.35,401.09 L128.60,401.05 L128.85,401.06 L129.10,401.07 L129.35,401.09 L129.60,401.10 L129.85,401.12 L130.10,401.14 L130.35,401.16 L130.60,401.20 L130.85,401.31 L131.10,401.56 L131.35,402.01 L131.60,402.68 L131.85,403.53 L132.10,404.54 L132.35,405.66 L132.60,406.83 L132.85,408.00 L133.10,409.18 L133.35,410.36 L133.60,411.54 L133.85,412.72 L134.10,413.90 L134.35,415.08 L134.60,416.26 L134.85,417.44 L135.10,418.62 L135.35,419.80 L135.60,420.98 L135.85,422.16 L136.10,423.34 L136.35,424.52 L136.60,425.70 L136.85,426.88 L137.10,428.06 L137.35,429.24 L137.60,430.42 L137.85,431.60 L138.10,432.78 L138.35,433.96 L138.60,435.14 L138.85,436.32 L139.10,437.50 L139.35,438.68 L139.60,439.86 L139.85,441.04 L140.10,442.22 L140.35,443.40 L140.60,444.58 L140.85,445.76 L141.10,446.94 L141.35,448.12 L141.60,449.30 L141.85,450.47 L142.10,451.63 L142.35,452.74 L142.60,453.76 L142.85,454.67 L143.10,455.42 L143.35,455.96 L143.60,456.29 L143.85,456.46 L144.10,456.57 L144.35,456.65 L144.60,456.74 L144.85,456.82 L145.10,456.90 L145.35,456.98 L145.60,457.06 L145.85,457.14 L146.10,457.21 L146.35,457.29 L146.60,457.37 L146.85,457.45 L147.10,457.58 L147.35,457.79 L147.60,458.14 L147.85,458.62 L148.10,459.17 L148.35,459.57 L148.60,459.39 L148.85,458.33 L149.10,456.43 L149.35,454.00 L149.60,451.34 L149.85,448.66 L150.10,446.07 L150.35,443.60 L150.60,441.34 L150.85,439.39 L151.10,437.82 L151.35,436.51 L151.60,435.34 L151.85,434.21 L152.10,433.11 L152.35,432.01 L152.60,430.91 L152.85,429.82 L153.10,428.72 L153.35,427.62 L153.60,426.53 L153.85,425.43 L154.10,424.33 L154.35,423.24 L154.60,422.14 L154.85,421.04 L155.10,419.95 L155.35,418.85 L155.60,417.75 L155.85,416.66 L156.10,415.56 L156.35,414.46 L156.60,413.37 L156.85,412.27 L157.10,411.17 L157.35,410.08 L157.60,408.98 L157.85,407.88 L158.10,406.79 L158.35,405.69 L158.60,404.61 L158.85,403.59 L159.10,402.69 L159.35,401.98 L159.60,401.49 L159.85,401.20 L160.10,401.08 L160.35,401.05 L160.60,401.06 L160.85,401.07 L161.10,401.09 L161.35,401.11 L161.60,401.12 L161.85,401.14 L162.10,401.16 L162.35,401.21 L162.60,401.34 L162.85,401.63 L163.10,402.12 L163.35,402.81 L163.60,403.69 L163.85,404.72 L164.10,405.85 L164.35,407.01 L164.60,408.19 L164.85,409.37 L165.10,410.55 L165.35,411.73 L165.60,412.91 L165.85,414.09 L166.10,415.27 L166.35,416.45 L166.60,417.63 L166.85,418.81 L167.10,419.99 L167.35,421.17 L167.60,422.35 L167.85,423.53 L168.10,424.71 L168.35,425.89 L168.60,427.07 L168.85,428.25 L169.10,429.43 L169.35,430.61 L169.60,431.79 L169.85,432.97 L170.10,434.15 L170.35,435.33 L170.60,436.51 L170.85,437.69 L171.10,438.87 L171.35,440.05 L171.60,441.23 L171.85,442.41 L172.10,443.59 L172.35,444.77 L172.60,445.95 L172.85,447.13 L173.10,448.31 L173.35,449.49 L173.60,450.66 L173.85,451.81 L174.10,452.91 L174.35,453.91 L174.60,454.80 L174.85,455.52 L175.10,456.02 L175.35,456.32 L175.60,456.48 L175.85,456.58 L176.10,456.67 L176.35,456.75 L176.60,456.83 L176.85,456.92 L177.10,457.00 L177.35,457.07 L177.60,457.15 L177.85,457.22 L178.10,457.30 L178.35,457.38 L178.60,457.47 L178.85,457.60 L179.10,457.83 L179.35,458.20 L179.60,458.70 L179.85,459.24 L180.10,459.54 L180.35,459.22 L180.60,458.02 L180.85,456.04 L181.10,453.57 L181.35,450.91 L181.60,448.24 L181.85,445.67 L182.10,443.23 L182.35,441.01 L182.60,439.13 L182.85,437.60 L183.10,436.32 L183.35,435.16 L183.60,434.04 L183.85,432.93 L184.10,431.83 L184.35,430.74 L184.60,429.64 L184.85,428.54 L185.10,427.45 L185.35,426.35 L185.60,425.25 L185.85,424.16 L186.10,423.06 L186.35,421.96 L186.60,420.87 L186.85,419.77 L187.10,418.67 L187.35,417.58 L187.60,416.48 L187.85,415.38 L188.10,414.29 L188.35,413.19 L188.60,412.09 L188.85,411.00 L189.10,409.90 L189.35,408.80 L189.60,407.71 L189.85,406.61 L190.10,405.52 L190.35,404.45 L190.60,403.44 L190.85,402.57 L191.10,401.89 L191.35,401.43 L191.60,401.17 L191.85,401.07 L192.10,401.05 L192.35,401.06 L192.60,401.08 L192.85,401.09 L193.10,401.11 L193.35,401.13 L193.60,401.14 L193.85,401.17 L194.10,401.23 L194.35,401.38 L194.60,401.70 L194.85,402.22 L195.10,402.94 L195.35,403.84 L195.60,404.89 L195.85,406.03 L196.10,407.20 L196.35,408.38 L196.60,409.56 L196.85,410.74 L197.10,411.92 L197.35,413.10 L197.60,414.28 L197.85,415.46 L198.10,416.64 L198.35,417.82 L198.60,419.00 L198.85,420.18 L199.10,421.36 L199.35,422.54 L199.60,423.72 L199.85,424.90 L200.10,426.08 L200.35,427.26 L200.60,428.44 L200.85,429.62 L201.10,430.80 L201.35,431.98 L201.60,433.16 L201.85,434.34 L202.10,435.52 L202.35,436.70 L202.60,437.88 L202.85,439.06 L203.10,440.24 L203.35,441.42 L203.60,442.60 L203.85,443.78 L204.10,444.96 L204.35,446.14 L204.60,447.32 L204.85,448.50 L205.10,449.68 L205.35,450.85 L205.60,451.99 L205.85,453.08 L206.10,454.07 L206.35,454.93 L206.60,455.61 L206.85,456.08 L207.10,456.35 L207.35,456.50 L207.60,456.59 L207.85,456.68 L208.10,456.76 L208.35,456.85 L208.60,456.93 L208.85,457.01 L209.10,457.09 L209.35,457.16 L209.60,457.24 L209.85,457.31 L210.10,457.39 L210.35,457.49 L210.60,457.64 L210.85,457.89 L211.10,458.28 L211.35,458.79 L211.60,459.30 L211.85,459.51 L212.10,459.05 L212.35,457.72 L212.60,455.65 L212.85,453.14 L213.10,450.48 L213.35,447.83 L213.60,445.27 L213.85,442.86 L214.10,440.69 L214.35,438.87 L214.60,437.39 L214.85,436.13 L215.10,434.98 L215.35,433.86 L215.60,432.76 L215.85,431.66 L216.10,430.56 L216.35,429.47 L216.60,428.37 L216.85,427.27 L217.10,426.18 L217.35,425.08 L217.60,423.98 L217.85,422.89 L218.10,421.79 L218.35,420.69 L218.60,419.60 L218.85,418.50 L219.10,417.40 L219.35,416.31 L219.60,415.21 L219.85,414.11 L220.10,413.02 L220.35,411.92 L220.60,410.82 L220.85,409.73 L221.10,408.63 L221.35,407.53 L221.60,406.44 L221.85,405.35 L222.10,404.29 L222.35,403.30 L222.60,402.45 L222.85,401.80 L223.10,401.36 L223.35,401.14 L223.60,401.06 L223.85,401.05 L224.10,401.06 L224.35,401.08 L224.60,401.10 L224.85,401.11 L225.10,401.13 L225.35,401.15 L225.60,401.17 L225.85,401.25 L226.10,401.42 L226.35,401.77 L226.60,402.32 L226.85,403.07 L227.10,404.00 L227.35,405.07 L227.60,406.22 L227.85,407.39 L228.10,408.57 L228.35,409.75 L228.60,410.93 L228.85,412.11 L229.10,413.29 L229.35,414.47 L229.60,415.65 L229.85,416.83 L230.10,418.01 L230.35,419.19 L230.60,420.37 L230.85,421.55 L231.10,422.73 L231.35,423.91 L231.60,425.09 L231.85,426.27 L232.10,427.45 L232.35,428.63 L232.60,429.81 L232.85,430.99 L233.10,432.17 L233.35,433.35 L233.60,434.53 L233.85,435.71 L234.10,436.89 L234.35,438.07 L234.60,439.25 L234.85,440.43 L235.10,441.61 L235.35,442.79 L235.60,443.97 L235.85,445.15 L236.10,446.33 L236.35,447.51 L236.60,448.69 L236.85,449.86 L237.10,451.03 L237.35,452.17 L237.60,453.25 L237.85,454.22 L238.10,455.06 L238.35,455.71 L238.60,456.14 L238.85,456.38 L239.10,456.51 L239.35,456.61 L239.60,456.69 L239.85,456.78 L240.10,456.86 L240.35,456.94 L240.60,457.02 L240.85,457.10 L241.10,457.17 L241.35,457.25 L241.60,457.32 L241.85,457.41 L242.10,457.51 L242.35,457.67 L242.60,457.95 L242.85,458.36 L243.10,458.88 L243.35,459.36 L243.60,459.48 L243.85,458.88 L244.10,457.41 L244.35,455.26 L244.60,452.71 L244.85,450.04 L245.10,447.41 L245.35,444.87 L245.60,442.48 L245.85,440.36 L246.10,438.61 L246.35,437.18 L246.60,435.94 L246.85,434.80 L247.10,433.68 L247.35,432.58 L247.60,431.48 L247.85,430.39 L248.10,429.29 L248.35,428.19 L248.60,427.10 L248.85,426.00 L249.10,424.90 L249.35,423.81 L249.60,422.71 L249.85,421.61 L250.10,420.52 L250.35,419.42 L250.60,418.32 L250.85,417.23 L251.10,416.13 L251.35,415.03 L251.60,413.94 L251.85,412.84 L252.10,411.74 L252.35,410.65 L252.60,409.55 L252.85,408.45 L253.10,407.36 L253.35,406.26 L253.60,405.18 L253.85,404.12 L254.10,403.15 L254.35,402.34 L254.60,401.72 L254.85,401.32 L255.10,401.12 L255.35,401.06 L255.60,401.05 L255.85,401.07 L256.10,401.08 L256.35,401.10 L256.60,401.11 L256.85,401.13 L257.10,401.15 L257.35,401.18 L257.60,401.26 L257.85,401.46 L258.10,401.84 L258.35,402.42 L258.60,403.20 L258.85,404.16 L259.10,405.25 L259.35,406.40 L259.60,407.58 L259.85,408.76 L260.10,409.94 L260.35,411.12 L260.60,412.30 L260.85,413.48 L261.10,414.66 L261.35,415.84 L261.60,417.02 L261.85,418.20 L262.10,419.38 L262.35,420.56 L262.60,421.74 L262.85,422.92 L263.10,424.10 L263.35,425.28 L263.60,426.46 L263.85,427.64 L264.10,428.82 L264.35,430.00 L264.60,431.18 L264.85,432.36 L265.10,433.54 L265.35,434.72 L265.60,435.90 L265.85,437.08 L266.10,438.26 L266.35,439.44 L266.60,440.62 L266.85,441.80 L267.10,442.98 L267.35,444.16 L267.60,445.34 L267.85,446.51 L268.10,447.69 L268.35,448.87 L268.60,450.05 L268.85,451.22 L269.10,452.35 L269.35,453.41 L269.60,454.37 L269.85,455.18 L270.10,455.80 L270.35,456.20 L270.60,456.41 L270.85,456.53 L271.10,456.62 L271.35,456.71 L271.60,456.79 L271.85,456.87 L272.10,456.95 L272.35,457.03 L272.60,457.11 L272.85,457.19 L273.10,457.26 L273.35,457.34 L273.60,457.42 L273.85,457.53 L274.10,457.71 L274.35,458.01 L274.60,458.44 L274.85,458.97 L275.10,459.42 L275.35,459.46 L275.60,458.71 L275.85,457.11 L276.10,454.87 L276.35,452.29 L276.60,449.61 L276.85,446.99 L277.10,444.47 L277.35,442.11 L277.60,440.04 L277.85,438.34 L278.10,436.96 L278.35,435.76 L278.60,434.62 L278.85,433.51 L279.10,432.41 L279.35,431.31 L279.60,430.21 L279.85,429.11 L280.10,428.02 L280.35,426.92 L280.60,425.82 L280.85,424.73 L281.10,423.63 L281.35,422.53 L281.60,421.44 L281.85,420.34 L282.10,419.24 L282.35,418.15 L282.60,417.05 L282.85,415.95 L283.10,414.86 L283.35,413.76 L283.60,412.66 L283.85,411.57 L284.10,410.47 L284.35,409.37 L284.60,408.28 L284.85,407.18 L285.10,406.09 L285.35,405.00 L285.60,403.96 L285.85,403.01 L286.10,402.23 L286.35,401.65 L286.60,401.28 L286.85,401.11 L287.10,401.06 L287.35,401.06 L287.60,401.07 L287.85,401.08 L288.10,401.10 L288.35,401.12 L288.60,401.13 L288.85,401.15 L289.10,401.19 L289.35,401.28 L289.60,401.50 L289.85,401.91 L290.10,402.52 L290.35,403.33 L290.60,404.32 L290.85,405.43 L291.10,406.59 L291.35,407.77 L291.60,408.95 L291.85,410.13 L292.10,411.31 L292.35,412.49 L292.60,413.67 L292.85,414.85 L293.10,416.03 L293.35,417.21 L293.60,418.39 L293.85,419.57 L294.10,420.75 L294.35,421.93 L294.60,423.11 L294.85,424.29 L295.10,425.47 L295.35,426.65 L295.60,427.83 L295.85,429.01 L296.10,430.19 L296.35,431.36 L296.60,432.54 L296.85,433.72 L297.10,434.90 L297.35,436.08 L297.60,437.26 L297.85,438.44 L298.10,439.62 L298.35,440.80 L298.60,441.98 L298.85,443.16 L299.10,444.34 L299.35,445.52 L299.60,446.70 L299.85,447.88 L300.10,449.06 L300.35,450.24 L300.60,451.40 L300.85,452.52 L301.10,453.57 L301.35,454.51 L301.60,455.30 L301.85,455.89 L302.10,456.25 L302.35,456.44 L302.60,456.55 L302.85,456.64 L303.10,456.72 L303.35,456.80 L303.60,456.89 L303.85,456.97 L304.10,457.05 L304.35,457.12 L304.60,457.20 L304.85,457.27 L305.10,457.35 L305.35,457.43 L305.60,457.55 L305.85,457.75 L306.10,458.06 L306.35,458.52 L306.60,459.06 L306.85,459.49 L307.10,459.43 L307.35,458.54 L307.60,456.81 L307.85,454.48 L308.10,451.86 L308.35,449.18 L308.60,446.57 L308.85,444.07 L309.10,441.74 L309.35,439.72 L309.60,438.08 L309.85,436.75 L310.10,435.57 L310.35,434.44 L310.60,433.33 L310.85,432.23 L311.10,431.13 L311.35,430.04 L311.60,428.94 L311.85,427.84 L312.10,426.75 L312.35,425.65 L312.60,424.55 L312.85,423.46 L313.10,422.36 L313.35,421.26 L313.60,420.17 L313.85,419.07 L314.10,417.97 L314.35,416.88 L314.60,415.78 L314.85,414.68 L315.10,413.59 L315.35,412.49 L315.60,411.39 L315.85,410.30 L316.10,409.20 L316.35,408.10 L316.60,407.01 L316.85,405.91 L317.10,404.83 L317.35,403.79 L317.60,402.87 L317.85,402.12 L318.10,401.58 L318.35,401.25 L318.60,401.10 L318.85,401.05 L319.10,401.06 L319.35,401.07 L319.60,401.09 L319.85,401.10 L320.10,401.12 L320.35,401.14 L320.60,401.16 L320.85,401.19 L321.10,401.30 L321.35,401.54 L321.60,401.99 L321.85,402.64 L322.10,403.49 L322.35,404.50 L322.60,405.61 L322.85,406.78 L323.10,407.96 L323.35,409.14 L323.60,410.32 L323.85,411.50 L324.10,412.68 L324.35,413.86 L324.60,415.04 L324.85,416.21 L325.10,417.39 L325.35,418.57 L325.60,419.75 L325.85,420.93 L326.10,422.11 L326.35,423.29 L326.60,424.47 L326.85,425.65 L327.10,426.83 L327.35,428.01 L327.60,429.19 L327.85,430.37 L328.10,431.55 L328.35,432.73 L328.60,433.91 L328.85,435.09 L329.10,436.27 L329.35,437.45 L329.60,438.63 L329.85,439.81 L330.10,440.99 L330.35,442.17 L330.60,443.35 L330.85,444.53 L331.10,445.71 L331.35,446.89 L331.60,448.07 L331.85,449.25 L332.10,450.43 L332.35,451.58 L332.60,452.69 L332.85,453.72 L333.10,454.63 L333.35,455.40 L333.60,455.95 L333.85,456.28 L334.10,456.46 L334.35,456.56 L334.60,456.65 L334.85,456.73 L335.10,456.82 L335.35,456.90 L335.60,456.98 L335.85,457.06 L336.10,457.13 L336.35,457.21 L336.60,457.29 L336.85,457.36 L337.10,457.45 L337.35,457.57 L337.60,457.78 L337.85,458.12 L338.10,458.60 L338.35,459.15 L338.60,459.55 L338.85,459.40 L339.10,458.37 L339.35,456.50 L339.60,454.09 L339.85,451.44 L340.10,448.77 L340.35,446.17 L340.60,443.70 L340.85,441.42 L341.10,439.46 L341.35,437.87 L341.60,436.56 L341.85,435.38 L342.10,434.26 L342.35,433.15 L342.60,432.05 L342.85,430.96 L343.10,429.86 L343.35,428.76 L343.60,427.67 L343.85,426.57 L344.10,425.47 L344.35,424.38 L344.60,423.28 L344.85,422.18 L345.10,421.09 L345.35,419.99 L345.60,418.89 L345.85,417.80 L346.10,416.70 L346.35,415.60 L346.60,414.51 L346.85,413.41 L347.10,412.31 L347.35,411.22 L347.60,410.12 L347.85,409.02 L348.10,407.93 L348.35,406.83 L348.60,405.74 L348.85,404.66 L349.10,403.63 L349.35,402.73 L349.60,402.01 L349.85,401.51 L350.10,401.21 L350.35,401.09 L350.60,401.05 L350.85,401.06 L351.10,401.07 L351.35,401.09 L351.60,401.11 L351.85,401.12 L352.10,401.14 L352.35,401.16 L352.60,401.21 L352.85,401.33 L353.10,401.61 L353.35,402.09 L353.60,402.77 L353.85,403.65 L354.10,404.67 L354.35,405.80 L354.60,406.97 L354.85,408.14 L355.10,409.32 L355.35,410.50 L355.60,411.68 L355.85,412.86 L356.10,414.04 L356.35,415.22 L356.60,416.40 L356.85,417.58 L357.10,418.76 L357.35,419.94 L357.60,421.12 L357.85,422.30 L358.10,423.48 L358.35,424.66 L358.60,425.84 L358.85,427.02 L359.10,428.20 L359.35,429.38 L359.60,430.56 L359.85,431.74 L360.10,432.92 L360.35,434.10 L360.60,435.28 L360.85,436.46 L361.10,437.64 L361.35,438.82 L361.60,440.00 L361.85,441.18 L362.10,442.36 L362.35,443.54 L362.60,444.72 L362.85,445.90 L363.10,447.08 L363.35,448.26 L363.60,449.44 L363.85,450.61 L364.10,451.77 L364.35,452.86 L364.60,453.87 L364.85,454.76 L365.10,455.49 L365.35,456.01 L365.60,456.31 L365.85,456.47 L366.10,456.58 L366.35,456.66 L366.60,456.75 L366.85,456.83 L367.10,456.91 L367.35,456.99 L367.60,457.07 L367.85,457.15 L368.10,457.22 L368.35,457.30 L368.60,457.37 L368.85,457.46 L369.10,457.60 L369.35,457.82 L369.60,458.19 L369.85,458.68 L370.10,459.22 L370.35,459.55 L370.60,459.26 L370.85,458.10 L371.10,456.14 L371.35,453.68 L371.60,451.01 L371.85,448.35 L372.10,445.77 L372.35,443.32 L372.60,441.09 L372.85,439.19 L373.10,437.66 L373.35,436.37 L373.60,435.20 L373.85,434.08 L374.10,432.98 L374.35,431.88 L374.60,430.78 L374.85,429.69 L375.10,428.59 L375.35,427.49 L375.60,426.40 L375.85,425.30 L376.10,424.20 L376.35,423.11 L376.60,422.01 L376.85,420.91 L377.10,419.82 L377.35,418.72 L377.60,417.62 L377.85,416.53 L378.10,415.43 L378.35,414.33 L378.60,413.24 L378.85,412.14 L379.10,411.04 L379.35,409.95 L379.60,408.85 L379.85,407.75 L380.10,406.66 L380.35,405.56 L380.60,404.49 L380.85,403.48 L381.10,402.60 L381.35,401.91 L381.60,401.44 L381.85,401.18 L382.10,401.07 L382.35,401.05 L382.60,401.06 L382.85,401.08 L383.10,401.09 L383.35,401.11 L383.60,401.12 L383.85,401.14 L384.10,401.17 L384.35,401.23 L384.60,401.37 L384.85,401.68 L385.10,402.19 L385.35,402.90 L385.60,403.80 L385.85,404.85 L386.10,405.99 L386.35,407.15 L386.60,408.33 L386.85,409.51 L387.10,410.69 L387.35,411.87 L387.60,413.05 L387.85,414.23 L388.10,415.41 L388.35,416.59 L388.60,417.77 L388.85,418.95 L389.10,420.13 L389.35,421.31 L389.60,422.49 L389.85,423.67 L390.10,424.85 L390.35,426.03 L390.60,427.21 L390.85,428.39 L391.10,429.57 L391.35,430.75 L391.60,431.93 L391.85,433.11 L392.10,434.29 L392.35,435.47 L392.60,436.65 L392.85,437.83 L393.10,439.01 L393.35,440.19 L393.60,441.37 L393.85,442.55 L394.10,443.73 L394.35,444.91 L394.60,446.09 L394.85,447.27 L395.10,448.45 L395.35,449.63 L395.60,450.80 L395.85,451.95 L396.10,453.03 L396.35,454.03 L396.60,454.89 L396.85,455.59 L397.10,456.07 L397.35,456.34 L397.60,456.49 L397.85,456.59 L398.10,456.68 L398.35,456.76 L398.60,456.84 L398.85,456.92 L399.10,457.00 L399.35,457.08 L399.60,457.16 L399.85,457.23 L400.10,457.31 L400.35,457.39 L400.60,457.48 L400.85,457.63 L401.10,457.88 L401.35,458.26 L401.60,458.77 L401.85,459.28 L402.10,459.52 L402.35,459.09 L402.60,457.79 L402.85,455.75 L403.10,453.25 L403.35,450.58 L403.60,447.93 L403.85,445.37 L404.10,442.95 L404.35,440.77 L404.60,438.93 L404.85,437.44 L405.10,436.18 L405.35,435.02 L405.60,433.90 L405.85,432.80 L406.10,431.70 L406.35,430.61 L406.60,429.51 L406.85,428.41 L407.10,427.32 L407.35,426.22 L407.60,425.12 L407.85,424.03 L408.10,422.93 L408.35,421.83 L408.60,420.74 L408.85,419.64 L409.10,418.54 L409.35,417.45 L409.60,416.35 L409.85,415.25 L410.10,414.16 L410.35,413.06 L410.60,411.96 L410.85,410.87 L411.10,409.77 L411.35,408.67 L411.60,407.58 L411.85,406.48 L412.10,405.39 L412.35,404.33 L412.60,403.33 L412.85,402.48 L413.10,401.82 L413.35,401.38 L413.60,401.15 L413.85,401.06 L414.10,401.05 L414.35,401.06 L414.60,401.08 L414.85,401.09 L415.10,401.11 L415.35,401.13 L415.60,401.15 L415.85,401.17 L416.10,401.24 L416.35,401.41 L416.60,401.75 L416.85,402.29 L417.10,403.03 L417.35,403.96 L417.60,405.03 L417.85,406.17 L418.10,407.34 L418.35,408.52 L418.60,409.70 L418.85,410.88 L419.10,412.06 L419.35,413.24 L419.60,414.42 L419.85,415.60 L420.10,416.78 L420.35,417.96 L420.60,419.14 L420.85,420.32 L421.10,421.50 L421.35,422.68 L421.60,423.86 L421.85,425.04 L422.10,426.22 L422.35,427.40 L422.60,428.58 L422.85,429.76 L423.10,430.94 L423.35,432.12 L423.60,433.30 L423.85,434.48 L424.10,435.66 L424.35,436.84 L424.60,438.02 L424.85,439.20 L425.10,440.38 L425.35,441.56 L425.60,442.74 L425.85,443.92 L426.10,445.10 L426.35,446.28 L426.60,447.46 L426.85,448.64 L427.10,449.82 L427.35,450.99 L427.60,452.13 L427.85,453.21 L428.10,454.18 L428.35,455.02 L428.60,455.68 L428.85,456.13 L429.10,456.37 L429.35,456.51 L429.60,456.60 L429.85,456.69 L430.10,456.77 L430.35,456.86 L430.60,456.94 L430.85,457.02 L431.10,457.09 L431.35,457.17 L431.60,457.25 L431.85,457.32 L432.10,457.40 L432.35,457.50 L432.60,457.67 L432.85,457.93 L433.10,458.34 L433.35,458.86 L433.60,459.35 L433.85,459.49 L434.10,458.92 L434.35,457.49 L434.60,455.36 L434.85,452.82 L435.10,450.15 L435.35,447.51 L435.60,444.97 L435.85,442.58 L436.10,440.45 L436.35,438.67 L436.60,437.23 L436.85,435.99 L437.10,434.84 L437.35,433.73 L437.60,432.63 L437.85,431.53 L438.10,430.43 L438.35,429.33 L438.60,428.24 L438.85,427.14 L439.10,426.04 L439.35,424.95 L439.60,423.85 L439.85,422.75 L440.10,421.66 L440.35,420.56 L440.60,419.46 L440.85,418.37 L441.10,417.27 L441.35,416.17 L441.60,415.08 L441.85,413.98 L442.10,412.88 L442.35,411.79 L442.60,410.69 L442.85,409.59 L443.10,408.50 L443.35,407.40 L443.60,406.31 L443.85,405.22 L444.10,404.16 L444.35,403.19 L444.60,402.36 L444.85,401.73 L445.10,401.33 L445.35,401.12 L445.60,401.06 L445.85,401.05 L446.10,401.07 L446.35,401.08 L446.60,401.10 L446.85,401.11 L447.10,401.13 L447.35,401.15 L447.60,401.18 L447.85,401.26 L448.10,401.45 L448.35,401.82 L448.60,402.39 L448.85,403.16 L449.10,404.12 L449.35,405.20 L449.60,406.36 L449.85,407.53 L450.10,408.71 L450.35,409.89 L450.60,411.07 L450.85,412.25 L451.10,413.43 L451.35,414.61 L451.60,415.79 L451.85,416.97 L452.10,418.15 L452.35,419.33 L452.60,420.51 L452.85,421.69 L453.10,422.87 L453.35,424.05 L453.60,425.23 L453.85,426.41 L454.10,427.59 L454.35,428.77 L454.60,429.95 L454.85,431.13 L455.10,432.31 L455.35,433.49 L455.60,434.67 L455.85,435.85 L456.10,437.03 L456.35,438.21 L456.60,439.39 L456.85,440.57 L457.10,441.75 L457.35,442.93 L457.60,444.11 L457.85,445.29 L458.10,446.47 L458.35,447.65 L458.60,448.83 L458.85,450.01 L459.10,451.17 L459.35,452.31 L459.60,453.37 L459.85,454.33 L460.10,455.15 L460.35,455.78 L460.60,456.18 L460.85,456.40 L461.10,456.53 L461.35,456.62 L461.60,456.70 L461.85,456.79 L462.10,456.87 L462.35,456.95 L462.60,457.03 L462.85,457.11 L463.10,457.18 L463.35,457.26 L463.60,457.33 L463.85,457.42 L464.10,457.53 L464.35,457.70 L464.60,457.99 L464.85,458.42 L465.10,458.95 L465.35,459.41 L465.60,459.46 L465.85,458.75 L466.10,457.19 L466.35,454.97 L466.60,452.39 L466.85,449.72 L467.10,447.09 L467.35,444.57 L467.60,442.21 L467.85,440.12 L468.10,438.41 L468.35,437.02 L468.60,435.80 L468.85,434.66 L469.10,433.55 L469.35,432.45 L469.60,431.35 L469.85,430.26 L470.10,429.16 L470.35,428.06 L470.60,426.97 L470.85,425.87 L471.10,424.77 L471.35,423.68 L471.60,422.58 L471.85,421.48 L472.10,420.39 L472.35,419.29 L472.60,418.19 L472.85,417.10 L473.10,416.00 L473.35,414.90 L473.60,413.81 L473.85,412.71 L474.10,411.61 L474.35,410.52 L474.60,409.42 L474.85,408.32 L475.10,407.23 L475.35,406.13 L475.60,405.05 L475.85,404.00 L476.10,403.05 L476.35,402.25 L476.60,401.66 L476.85,401.29 L477.10,401.11 L477.35,401.06 L477.60,401.05 L477.85,401.07 L478.10,401.08 L478.35,401.10 L478.60,401.12 L478.85,401.13 L479.10,401.15 L479.35,401.19 L479.60,401.27 L479.85,401.49 L480.10,401.89 L480.35,402.49 L480.60,403.29 L480.85,404.28 L481.10,405.38 L481.35,406.54 L481.60,407.72 L481.85,408.90 L482.10,410.08 L482.35,411.26 L482.60,412.44 L482.85,413.62 L483.10,414.80 L483.35,415.98 L483.60,417.16 L483.85,418.34 L484.10,419.52 L484.35,420.70 L484.60,421.88 L484.85,423.06 L485.10,424.24 L485.35,425.42 L485.60,426.60 L485.85,427.78 L486.10,428.96 L486.35,430.14 L486.60,431.32 L486.85,432.50 L487.10,433.68 L487.35,434.86 L487.60,436.04 L487.85,437.22 L488.10,438.40 L488.35,439.58 L488.60,440.76 L488.85,441.94 L489.10,443.12 L489.35,444.30 L489.60,445.48 L489.85,446.66 L490.10,447.84 L490.35,449.02 L490.60,450.19 L490.85,451.36 L491.10,452.48 L491.35,453.53 L491.60,454.47 L491.85,455.28 L492.10,455.88 L492.35,456.24 L492.60,456.44 L492.85,456.55 L493.10,456.63 L493.35,456.72 L493.60,456.80 L493.85,456.88 L494.10,456.96 L494.35,457.04 L494.60,457.12 L494.85,457.19 L495.10,457.27 L495.35,457.35 L495.60,457.43 L495.85,457.55 L496.10,457.74 L496.35,458.05 L496.60,458.50 L496.85,459.04 L497.10,459.47 L497.35,459.43 L497.60,458.58 L497.85,456.88 L498.10,454.58 L498.35,451.96 L498.60,449.29 L498.85,446.67 L499.10,444.17 L499.35,441.83 L499.60,439.80 L499.85,438.15 L500.10,436.80 L500.35,435.61 L500.60,434.48 L500.85,433.37 L501.10,432.27 L501.35,431.18 L501.60,430.08 L501.85,428.98 L502.10,427.89 L502.35,426.79 L502.60,425.69 L502.85,424.60 L503.10,423.50 L503.35,422.40 L503.60,421.31 L503.85,420.21 L504.10,419.11 L504.35,418.02 L504.60,416.92 L504.85,415.82 L505.10,414.73 L505.35,413.63 L505.60,412.53 L505.85,411.44 L506.10,410.34 L506.35,409.24 L506.60,408.15 L506.85,407.05 L507.10,405.96 L507.35,404.87 L507.60,403.84 L507.85,402.90 L508.10,402.14 L508.35,401.59 L508.60,401.26 L508.85,401.10 L509.10,401.05 L509.35,401.06 L509.60,401.07 L509.85,401.09 L510.10,401.10 L510.35,401.12 L510.60,401.14 L510.85,401.15 L511.10,401.19 L511.35,401.29 L511.60,401.53 L511.85,401.97 L512.10,402.61 L512.35,403.45 L512.60,404.45 L512.85,405.57 L513.10,406.73 L513.35,407.91 L513.60,409.09 L513.85,410.27 L514.10,411.45 L514.35,412.63 L514.60,413.81 L514.85,414.99 L515.10,416.17 L515.35,417.35 L515.60,418.53 L515.85,419.71 L516.10,420.89 L516.35,422.07 L516.60,423.25 L516.85,424.43 L517.10,425.61 L517.35,426.79 L517.60,427.97 L517.85,429.15 L518.10,430.33 L518.35,431.51 L518.60,432.69 L518.85,433.87 L519.10,435.05 L519.35,436.23 L519.60,437.41 L519.85,438.59 L520.10,439.77 L520.35,440.95 L520.60,442.13 L520.85,443.31 L521.10,444.49 L521.35,445.67 L521.60,446.85 L521.85,448.03 L522.10,449.20 L522.35,450.38 L522.60,451.54 L522.85,452.65 L523.10,453.68 L523.35,454.60 L523.60,455.37 L523.85,455.93 L524.10,456.27 L524.35,456.45 L524.60,456.56 L524.85,456.65 L525.10,456.73 L525.35,456.81 L525.60,456.90 L525.85,456.98 L526.10,457.05 L526.35,457.13 L526.60,457.21 L526.85,457.28 L527.10,457.36 L527.35,457.45 L527.60,457.57 L527.85,457.78 L528.10,458.11 L528.35,458.58 L528.60,459.12 L528.85,459.54 L529.10,459.40 L529.35,458.41 L529.60,456.58 L529.85,454.19 L530.10,451.55 L530.35,448.87 L530.60,446.27 L530.85,443.79 L531.10,441.50 L531.35,439.52 L531.60,437.92 L531.85,436.61 L532.10,435.43 L532.35,434.30 L532.60,433.20 L532.85,432.10 L533.10,431.00 L533.35,429.90 L533.60,428.81 L533.85,427.71 L534.10,426.61 L534.35,425.52 L534.60,424.42 L534.85,423.32 L535.10,422.23 L535.35,421.13 L535.60,420.03 L535.85,418.94 L536.10,417.84 L536.35,416.74 L536.60,415.65 L536.85,414.55 L537.10,413.45 L537.35,412.36 L537.60,411.26 L537.85,410.16 L538.10,409.07 L538.35,407.97 L538.60,406.87 L538.85,405.78 L539.10,404.70 L539.35,403.67 L539.60,402.76 L539.85,402.04 L540.10,401.52 L540.35,401.22 L540.60,401.09 L540.85,401.05 L541.10,401.06 L541.35,401.07 L541.60,401.09 L541.85,401.11 L542.10,401.12 L542.35,401.14 L542.60,401.16 L542.85,401.21 L543.10,401.32 L543.35,401.59 L543.60,402.07 L543.85,402.74 L544.10,403.61 L544.35,404.63 L544.60,405.75 L544.85,406.92 L545.10,408.10 L545.35,409.28 L545.60,410.46 L545.85,411.64 L546.10,412.82 L546.35,414.00 L546.60,415.18 L546.85,416.36 L547.10,417.54 L547.35,418.72 L547.60,419.90 L547.85,421.08 L548.10,422.26 L548.35,423.44 L548.60,424.62 L548.85,425.80 L549.10,426.98 L549.35,428.16 L549.60,429.34 L549.85,430.52 L550.10,431.70 L550.35,432.88 L550.60,434.06 L550.85,435.24 L551.10,436.41 L551.35,437.59 L551.60,438.77 L551.85,439.95 L552.10,441.13 L552.35,442.31 L552.60,443.49 L552.85,444.67 L553.10,445.85 L553.35,447.03 L553.60,448.21 L553.85,449.39 L554.10,450.57 L554.35,451.72 L554.60,452.82 L554.85,453.84 L555.10,454.73 L555.35,455.47 L555.60,455.99 L555.85,456.30 L556.10,456.47 L556.35,456.57 L556.60,456.66 L556.85,456.74 L557.10,456.83 L557.35,456.91 L557.60,456.99 L557.85,457.07 L558.10,457.14 L558.35,457.22 L558.60,457.29 L558.85,457.37 L559.10,457.46 L559.35,457.59 L559.60,457.81 L559.85,458.17 L560.10,458.66 L560.35,459.20 L560.60,459.56 L560.85,459.31 L561.10,458.17 L561.35,456.23 L561.60,453.78 L561.85,451.12 L562.10,448.45 L562.35,445.87 L562.60,443.42 L562.85,441.17 L563.10,439.26 L563.35,437.71 L563.60,436.42 L563.85,435.25 L564.10,434.13 L564.35,433.02 L564.60,431.92 L564.85,430.83 L565.10,429.73 L565.35,428.63 L565.60,427.54 L565.85,426.44 L566.10,425.34 L566.35,424.25 L566.60,423.15 L566.85,422.05 L567.10,420.96 L567.35,419.86 L567.60,418.76 L567.85,417.67 L568.10,416.57 L568.35,415.47 L568.60,414.38 L568.85,413.28 L569.10,412.18 L569.35,411.09 L569.60,409.99 L569.85,408.89 L570.10,407.80 L570.35,406.70 L570.60,405.61 L570.85,404.53 L571.10,403.52 L571.35,402.63 L571.60,401.93 L571.85,401.46 L572.10,401.19 L572.35,401.08 L572.60,401.05 L572.85,401.06 L573.10,401.08 L573.35,401.09 L573.60,401.11 L573.85,401.12 L574.10,401.14 L574.35,401.17 L574.60,401.22 L574.85,401.36 L575.10,401.66 L575.35,402.17 L575.60,402.87 L575.85,403.76 L576.10,404.81 L576.35,405.94 L576.60,407.11 L576.85,408.29 L577.10,409.47 L577.35,410.65 L577.60,411.83 L577.85,413.01 L578.10,414.19 L578.35,415.37 L578.60,416.55 L578.85,417.73 L579.10,418.91 L579.35,420.09 L579.60,421.26 L579.85,422.44 L580.10,423.62 L580.35,424.80 L580.60,425.98 L580.85,427.16 L581.10,428.34 L581.35,429.52 L581.60,430.70 L581.85,431.88 L582.10,433.06 L582.35,434.24 L582.60,435.42 L582.85,436.60 L583.10,437.78 L583.35,438.96 L583.60,440.14 L583.85,441.32 L584.10,442.50 L584.35,443.68 L584.60,444.86 L584.85,446.04 L585.10,447.22 L585.35,448.40 L585.60,449.58 L585.85,450.75 L586.10,451.90 L586.35,452.99 L586.60,453.99 L586.85,454.86 L587.10,455.56 L587.35,456.05 L587.60,456.34 L587.85,456.49 L588.10,456.59 L588.35,456.67 L588.60,456.76 L588.85,456.84 L589.10,456.92 L589.35,457.00 L589.60,457.08 L589.85,457.16 L590.10,457.23 L590.35,457.31 L590.60,457.38 L590.85,457.48 L591.10,457.62 L591.35,457.86 L591.60,458.24 L591.85,458.75 L592.10,459.27 L592.35,459.53 L592.60,459.14 L592.85,457.87 L593.10,455.84 L593.35,453.36 L593.60,450.69 L593.85,448.03 L594.10,445.47 L594.35,443.04 L594.60,440.85 L594.85,439.00 L595.10,437.50 L595.35,436.23 L595.60,435.07 L595.85,433.95 L596.10,432.85 L596.35,431.75 L596.60,430.65 L596.85,429.55 L597.10,428.46 L597.35,427.36 L597.60,426.26 L597.85,425.17 L598.10,424.07 L598.35,422.97 L598.60,421.88 L598.85,420.78 L599.10,419.68 L599.35,418.59 L599.60,417.49 L599.85,416.39 L600.10,415.30 L600.35,414.20 L600.60,413.10 L600.85,412.01 L601.10,410.91 L601.35,409.81 L601.60,408.72 L601.85,407.62 L602.10,406.52 L602.35,405.43 L602.60,404.37 L602.85,403.37 L603.10,402.51 L603.35,401.84 L603.60,401.40 L603.85,401.16 L604.10,401.07 L604.35,401.05 L604.60,401.06 L604.85,401.08 L605.10,401.09 L605.35,401.11 L605.60,401.13 L605.85,401.14 L606.10,401.17 L606.35,401.24 L606.60,401.40 L606.85,401.73 L607.10,402.27 L607.35,403.00 L607.60,403.92 L607.85,404.98 L608.10,406.12 L608.35,407.30 L608.60,408.47 L608.85,409.65 L609.10,410.83 L609.35,412.01 L609.60,413.19 L609.85,414.37 L610.10,415.55 L610.35,416.73 L610.60,417.91 L610.85,419.09 L611.10,420.27 L611.35,421.45 L611.60,422.63 L611.85,423.81 L612.10,424.99 L612.35,426.17 L612.60,427.35 L612.85,428.53 L613.10,429.71 L613.35,430.89 L613.60,432.07 L613.85,433.25 L614.10,434.43 L614.35,435.61 L614.60,436.79 L614.85,437.97 L615.10,439.15 L615.35,440.33 L615.60,441.51 L615.85,442.69 L616.10,443.87 L616.35,445.05 L616.60,446.23 L616.85,447.41 L617.10,448.59 L617.35,449.77 L617.60,450.94 L617.85,452.08 L618.10,453.16 L618.35,454.14 L618.60,454.99 L618.85,455.66 L619.10,456.11 L619.35,456.37 L619.60,456.51 L619.85,456.60 L620.10,456.69 L620.35,456.77 L620.60,456.85 L620.85,456.93 L621.10,457.01 L621.35,457.09 L621.60,457.17 L621.85,457.24 L622.10,457.32 L622.35,457.40 L622.60,457.50 L622.85,457.66 L623.10,457.92 L623.35,458.32 L623.60,458.84 L623.85,459.33 L624.10,459.50 L624.35,458.97 L624.60,457.57 L624.85,455.45 L625.10,452.93 L625.35,450.26 L625.60,447.62 L625.85,445.07 L626.10,442.67 L626.35,440.53 L626.60,438.74 L626.85,437.28 L627.10,436.04 L627.35,434.89 L627.60,433.77 L627.85,432.67 L628.10,431.57 L628.35,430.47 L628.60,429.38 L628.85,428.28 L629.10,427.18 L629.35,426.09 L629.60,424.99 L629.85,423.89 L630.10,422.80 L630.35,421.70 L630.60,420.60 L630.85,419.51 L631.10,418.41 L631.35,417.31 L631.60,416.22 L631.85,415.12 L632.10,414.02 L632.35,412.93 L632.60,411.83 L632.85,410.73 L633.10,409.64 L633.35,408.54 L633.60,407.44 L633.85,406.35 L634.10,405.26 L634.35,404.20 L634.60,403.23 L634.85,402.39 L635.10,401.75 L635.35,401.33 L635.60,401.12 L635.85,401.06 L636.10,401.05 L636.35,401.06 L636.60,401.08 L636.85,401.10 L637.10,401.11 L637.35,401.13 L637.60,401.15 L637.85,401.18 L638.10,401.25 L638.35,401.44 L638.60,401.80 L638.85,402.37 L639.10,403.13 L639.35,404.08 L639.60,405.16 L639.85,406.31 L640.10,407.48 L640.35,408.66 L640.60,409.84 L640.85,411.02 L641.10,412.20 L641.35,413.38 L641.60,414.56 L641.85,415.74 L642.10,416.92 L642.35,418.10 L642.60,419.28 L642.85,420.46 L643.10,421.64 L643.35,422.82 L643.60,424.00 L643.85,425.18 L644.10,426.36 L644.35,427.54 L644.60,428.72 L644.85,429.90 L645.10,431.08 L645.35,432.26 L645.60,433.44 L645.85,434.62 L646.10,435.80 L646.35,436.98 L646.60,438.16 L646.85,439.34 L647.10,440.52 L647.35,441.70 L647.60,442.88 L647.85,444.06 L648.10,445.24 L648.35,446.42 L648.60,447.60 L648.85,448.78 L649.10,449.96 L649.35,451.13 L649.60,452.27 L649.85,453.33 L650.10,454.29 L650.35,455.12 L650.60,455.76 L650.85,456.17 L651.10,456.40 L651.35,456.52 L651.60,456.62 L651.85,456.70 L652.10,456.78 L652.35,456.87 L652.60,456.95 L652.85,457.03 L653.10,457.10 L653.35,457.18 L653.60,457.26 L653.85,457.33 L654.10,457.41 L654.35,457.52 L654.60,457.69 L654.85,457.98 L655.10,458.40 L655.35,458.92 L655.60,459.39 L655.85,459.47 L656.10,458.79 L656.35,457.26 L656.60,455.06 L656.85,452.50 L657.10,449.83 L657.35,447.20 L657.60,444.67 L657.85,442.30 L658.10,440.20 L658.35,438.48 L658.60,437.07 L658.85,435.85 L659.10,434.71 L659.35,433.60 L659.60,432.49 L659.85,431.40 L660.10,430.30 L660.35,429.20 L660.60,428.11 L660.85,427.01 L661.10,425.91 L661.35,424.82 L661.60,423.72 L661.85,422.62 L662.10,421.53 L662.35,420.43 L662.60,419.33 L662.85,418.24 L663.10,417.14 L663.35,416.04 L663.60,414.95 L663.85,413.85 L664.10,412.75 L664.35,411.66 L664.60,410.56 L664.85,409.46 L665.10,408.37 L665.35,407.27 L665.60,406.17 L665.85,405.09 L666.10,404.04 L666.35,403.08 L666.60,402.28 L666.85,401.68 L667.10,401.30 L667.35,401.11 L667.60,401.06 L667.85,401.05 L668.10,401.07 L668.35,401.08 L668.60,401.10 L668.85,401.12 L669.10,401.13 L669.35,401.15 L669.60,401.18 L669.85,401.27 L670.10,401.48 L670.35,401.87 L670.60,402.47 L670.85,403.26 L671.10,404.24 L671.35,405.34 L671.60,406.50 L671.85,407.67 L672.10,408.85 L672.35,410.03 L672.60,411.21 L672.85,412.39 L673.10,413.57 L673.35,414.75 L673.60,415.93 L673.85,417.11 L674.10,418.29 L674.35,419.47 L674.60,420.65 L674.85,421.83 L675.10,423.01 L675.35,424.19 L675.60,425.37 L675.85,426.55 L676.10,427.73 L676.35,428.91 L676.60,430.09 L676.85,431.27 L677.10,432.45 L677.35,433.63 L677.60,434.81 L677.85,435.99 L678.10,437.17 L678.35,438.35 L678.60,439.53 L678.85,440.71 L679.10,441.89 L679.35,443.07 L679.60,444.25 L679.85,445.43 L680.10,446.61 L680.35,447.79 L680.60,448.97 L680.85,450.15 L681.10,451.31 L681.35,452.44 L681.60,453.49 L681.85,454.44 L682.10,455.24 L682.35,455.85 L682.60,456.23 L682.85,456.43 L683.10,456.54 L683.35,456.63 L683.60,456.71 L683.85,456.80 L684.10,456.88 L684.35,456.96 L684.60,457.04 L684.85,457.12 L685.10,457.19 L685.35,457.27 L685.60,457.34 L685.85,457.43 L686.10,457.54 L686.35,457.73 L686.60,458.04 L686.85,458.48 L687.10,459.01 L687.35,459.46 L687.60,459.44 L687.85,458.62 L688.10,456.96 L688.35,454.67 L688.60,452.07 L688.85,449.40 L689.10,446.78 L689.35,444.27 L689.60,441.93 L689.85,439.88 L690.10,438.21 L690.35,436.86 L690.60,435.66 L690.85,434.53 L691.10,433.42 L691.35,432.32 L691.60,431.22 L691.85,430.12 L692.10,429.03 L692.35,427.93 L692.60,426.83 L692.85,425.74 L693.10,424.64 L693.35,423.54 L693.60,422.45 L693.85,421.35 L694.10,420.25 L694.35,419.16 L694.60,418.06 L694.85,416.96 L695.10,415.87 L695.35,414.77 L695.60,413.67 L695.85,412.58 L696.10,411.48 L696.35,410.38 L696.60,409.29 L696.85,408.19 L697.10,407.09 L697.35,406.00 L697.60,404.92 L697.85,403.88 L698.10,402.94 L698.35,402.17 L698.60,401.61 L698.85,401.26 L699.10,401.10 L699.35,401.05 L699.60,401.06 L699.85,401.07 L700.10,401.09 L700.35,401.10 L700.60,401.12 L700.85,401.13 L701.10,401.15 L701.35,401.19 L701.60,401.29 L701.85,401.52 L702.10,401.95 L702.35,402.58 L702.60,403.41 L702.85,404.41 L703.10,405.52 L703.35,406.68 L703.60,407.86 L703.85,409.04 L704.10,410.22 L704.35,411.40 L704.60,412.58 L704.85,413.76 L705.10,414.94 L705.35,416.12 L705.60,417.30 L705.85,418.48 L706.10,419.66 L706.35,420.84 L706.60,422.02 L706.85,423.20 L707.10,424.38 L707.35,425.56 L707.60,426.74 L707.85,427.92 L708.10,429.10 L708.35,430.28 L708.60,431.46 L708.85,432.64 L709.10,433.82 L709.35,435.00 L709.60,436.18 L709.85,437.36 L710.10,438.54 L710.35,439.72 L710.60,440.90 L710.85,442.08 L711.10,443.26 L711.35,444.44 L711.60,445.62 L711.85,446.80 L712.10,447.98 L712.35,449.16 L712.60,450.33 L712.85,451.49 L713.10,452.61 L713.35,453.64 L713.60,454.57 L713.85,455.35 L714.10,455.92 L714.35,456.27 L714.60,456.45 L714.85,456.56 L715.10,456.64 L715.35,456.73 L715.60,456.81 L715.85,456.89 L716.10,456.97 L716.35,457.05 L716.60,457.13 L716.85,457.20 L717.10,457.28 L717.35,457.36 L717.60,457.44 L717.85,457.56 L718.10,457.77 L718.35,458.09 L718.60,458.56 L718.85,459.10 L719.10,459.52 L719.35,459.41 L719.60,458.45 L719.85,456.65 L720.10,454.29 L720.35,451.65 L720.60,448.97 L720.85,446.37 L721.10,443.88 L721.35,441.58 L721.60,439.59 L721.85,437.98 L722.10,436.65 L722.35,435.48 L722.60,434.35 L722.85,433.24 L723.10,432.14 L723.35,431.05 L723.60,429.95 L723.85,428.85 L724.10,427.75 L724.35,426.66 L724.60,425.56 L724.85,424.46 L725.10,423.37 L725.35,422.27 L725.60,421.17 L725.85,420.08 L726.10,418.98 L726.35,417.88 L726.60,416.79 L726.85,415.69 L727.10,414.59 L727.35,413.50 L727.60,412.40 L727.85,411.30 L728.10,410.21 L728.35,409.11 L728.60,408.01 L728.85,406.92 L729.10,405.82 L729.35,404.74 L729.60,403.71 L729.85,402.80 L730.10,402.06 L730.35,401.54 L730.60,401.23 L730.85,401.09 L731.10,401.05 L731.35,401.06 L731.60,401.07 L731.85,401.09 L732.10,401.10 L732.35,401.12 L732.60,401.14 L732.85,401.16 L733.10,401.20 L733.35,401.31 L733.60,401.58 L733.85,402.04 L734.10,402.71 L734.35,403.57 L734.60,404.58 L734.85,405.71 L735.10,406.87 L735.35,408.05 L735.60,409.23 L735.85,410.41 L736.10,411.59 L736.35,412.77 L736.60,413.95 L736.85,415.13 L737.10,416.31 L737.35,417.49 L737.60,418.67 L737.85,419.85 L738.10,421.03 L738.35,422.21 L738.60,423.39 L738.85,424.57 L739.10,425.75 L739.35,426.93 L739.60,428.11 L739.85,429.29 L740.10,430.47 L740.35,431.65 L740.60,432.83 L740.85,434.01 L741.10,435.19 L741.35,436.37 L741.60,437.55 L741.85,438.73 L742.10,439.91 L742.35,441.09 L742.60,442.27 L742.85,443.45 L743.10,444.63 L743.35,445.81 L743.60,446.99 L743.85,448.17 L744.10,449.35 L744.35,450.52 L744.60,451.67 L744.85,452.78 L745.10,453.80 L745.35,454.70 L745.60,455.44 L745.85,455.98 L746.10,456.30 L746.35,456.47 L746.60,456.57 L746.85,456.66 L747.10,456.74 L747.35,456.82 L747.60,456.91 L747.85,456.99 L748.10,457.06 L748.35,457.14 L748.60,457.22 L748.85,457.29 L749.10,457.37 L749.35,457.46 L749.60,457.58 L749.85,457.80 L750.10,458.16 L750.35,458.64 L750.60,459.19 L750.85,459.56 L751.10,459.35 L751.35,458.25 L751.60,456.33 L751.85,453.89 L752.10,451.23 L752.35,448.56 L752.60,445.97 L752.85,443.51 L753.10,441.25 L753.35,439.33 L753.60,437.76 L753.85,436.46 L754.10,435.29 L754.35,434.17 L754.60,433.07 L754.85,431.97 L755.10,430.87 L755.35,429.77 L755.60,428.68 L755.85,427.58 L756.10,426.48 L756.35,425.39 L756.60,424.29 L756.85,423.19 L757.10,422.10 L757.35,421.00 L757.60,419.90 L757.85,418.81 L758.10,417.71 L758.35,416.61 L758.60,415.52 L758.85,414.42 L759.10,413.32 L759.35,412.23 L759.60,411.13 L759.85,410.03 L760.10,408.94 L760.35,407.84 L760.60,406.74 L760.85,405.65 L761.10,404.57 L761.35,403.55 L761.60,402.66 L761.85,401.96 L762.10,401.47 L762.35,401.20 L762.60,401.08 L762.85,401.05 L763.10,401.06 L763.35,401.07 L763.60,401.09 L763.85,401.11 L764.10,401.12 L764.35,401.14 L764.60,401.16 L764.85,401.22 L765.10,401.35 L765.35,401.65 L765.60,402.14 L765.85,402.84 L766.10,403.72 L766.35,404.76 L766.60,405.89 L766.85,407.06 L767.10,408.24 L767.35,409.42 L767.60,410.60 L767.85,411.78 L768.10,412.96 L768.35,414.14 L768.60,415.32 L768.85,416.50 L769.10,417.68 L769.35,418.86 L769.60,420.04 L769.85,421.22 L770.10,422.40 L770.35,423.58 L770.60,424.76 L770.85,425.94 L771.10,427.12 L771.35,428.30 L771.60,429.48 L771.85,430.66 L772.10,431.84 L772.35,433.02 L772.60,434.20 L772.85,435.38 L773.10,436.56 L773.35,437.74 L773.60,438.92 L773.85,440.10 L774.10,441.28 L774.35,442.46 L774.60,443.64 L774.85,444.82 L775.10,446.00 L775.35,447.18 L775.60,448.36 L775.85,449.53 L776.10,450.71 L776.35,451.86 L776.60,452.95 L776.85,453.95 L777.10,454.83 L777.35,455.54 L777.60,456.04 L777.85,456.33 L778.10,456.48 L778.35,456.58 L778.60,456.67 L778.85,456.75 L779.10,456.84 L779.35,456.92 L779.60,457.00 L779.85,457.08 L780.10,457.15 L780.35,457.23 L780.60,457.30 L780.85,457.38 L781.10,457.47 L781.35,457.61 L781.60,457.85 L781.85,458.22 L782.10,458.72 L782.35,459.25 L782.60,459.53 L782.85,459.18 L783.10,457.95 L783.35,455.94 L783.60,453.46 L783.85,450.80 L784.10,448.14 L784.35,445.57 L784.60,443.14 L784.85,440.93 L785.10,439.06 L785.35,437.55 L785.60,436.28 L785.85,435.11 L786.10,433.99 L786.35,432.89 L786.60,431.79 L786.85,430.69 L787.10,429.60 L787.35,428.50 L787.60,427.40 L787.85,426.31 L788.10,425.21 L788.35,424.11 L788.60,423.02 L788.85,421.92 L789.10,420.82 L789.35,419.73 L789.60,418.63 L789.85,417.53 L790.10,416.44 L790.35,415.34 L790.60,414.24 L790.85,413.15 L791.10,412.05 L791.35,410.95 L791.60,409.86 L791.85,408.76 L792.10,407.66 L792.35,406.57 L792.60,405.48 L792.85,404.41 L793.10,403.41 L793.35,402.54 L793.60,401.87 L793.85,401.41 L794.10,401.16 L794.35,401.07 L794.60,401.05 L794.85,401.06 L795.10,401.08 L795.35,401.09 L795.60,401.11 L795.85,401.13 L796.10,401.14 L796.35,401.17 L796.60,401.23 L796.85,401.39 L797.10,401.72 L797.35,402.24 L797.60,402.97 L797.85,403.88 L798.10,404.94 L798.35,406.08 L798.60,407.25 L798.85,408.43 L799.10,409.61 L799.35,410.79 L799.60,411.97 L799.85,413.15 L800.10,414.33 L800.35,415.51 L800.60,416.69 L800.85,417.87 L801.10,419.05 L801.35,420.23 L801.60,421.41 L801.85,422.59 L802.10,423.77 L802.35,424.95 L802.60,426.13 L802.85,427.31 L803.10,428.49 L803.35,429.67 L803.60,430.85 L803.85,432.03 L804.10,433.21 L804.35,434.39 L804.60,435.57 L804.85,436.75 L805.10,437.93 L805.35,439.11 L805.60,440.29 L805.85,441.46 L806.10,442.64 L806.35,443.82 L806.60,445.00 L806.85,446.18 L807.10,447.36 L807.35,448.54 L807.60,449.72 L807.85,450.89 L808.10,452.04 L808.35,453.12 L808.60,454.10 L808.85,454.96 L809.10,455.64 L809.35,456.10 L809.60,456.36 L809.85,456.50 L810.10,456.60 L810.35,456.68 L810.60,456.77 L810.85,456.85 L811.10,456.93 L811.35,457.01 L811.60,457.09 L811.85,457.16 L812.10,457.24 L812.35,457.32 L812.60,457.40 L812.85,457.49 L813.10,457.65 L813.35,457.91 L813.60,458.30 L813.85,458.81 L814.10,459.31 L814.35,459.51 L814.60,459.01 L814.85,457.64 L815.10,455.55 L815.35,453.03 L815.60,450.37 L815.85,447.72 L816.10,445.17 L816.35,442.76 L816.60,440.61 L816.85,438.80 L817.10,437.34 L817.35,436.09 L817.60,434.93 L817.85,433.82 L818.10,432.71 L818.35,431.62 L818.60,430.52 L818.85,429.42 L819.10,428.33 L819.35,427.23 L819.60,426.13 L819.85,425.04 L820.10,423.94 L820.35,422.84 L820.60,421.75 L820.85,420.65 L821.10,419.55 L821.35,418.46 L821.60,417.36 L821.85,416.26 L822.10,415.17 L822.35,414.07 L822.60,412.97 L822.85,411.88 L823.10,410.78 L823.35,409.68 L823.60,408.59 L823.85,407.49 L824.10,406.39 L824.35,405.30 L824.60,404.24 L824.85,403.26 L825.10,402.42 L825.35,401.77 L825.60,401.35 L825.85,401.13 L826.10,401.06 L826.35,401.05 L826.60,401.06 L826.85,401.08 L827.10,401.10 L827.35,401.11 L827.60,401.13 L827.85,401.15 L828.10,401.18 L828.35,401.25 L828.60,401.43 L828.85,401.79 L829.10,402.34 L829.35,403.10 L829.60,404.04 L829.85,405.12 L830.10,406.26 L830.35,407.44 L830.60,408.62 L830.85,409.80 L831.10,410.98 L831.35,412.16 L831.60,413.34 L831.85,414.52 L832.10,415.70 L832.35,416.88 L832.60,418.06 L832.85,419.24 L833.10,420.42 L833.35,421.60 L833.60,422.78 L833.85,423.96 L834.10,425.14 L834.35,426.31 L834.60,427.49 L834.85,428.67 L835.10,429.85 L835.35,431.03 L835.60,432.21 L835.85,433.39 L836.10,434.57 L836.35,435.75 L836.60,436.93 L836.85,438.11 L837.10,439.29 L837.35,440.47 L837.60,441.65 L837.85,442.83 L838.10,444.01 L838.35,445.19 L838.60,446.37 L838.85,447.55 L839.10,448.73 L839.35,449.91 L839.60,451.08 L839.85,452.22 L840.10,453.29 L840.35,454.26 L840.60,455.09 L840.85,455.73 L841.10,456.16 L841.35,456.39 L841.60,456.52 L841.85,456.61 L842.10,456.70 L842.35,456.78 L842.60,456.86 L842.85,456.94 L843.10,457.02 L843.35,457.10 L843.60,457.18 L843.85,457.25 L844.10,457.33 L844.35,457.41 L844.60,457.52 L844.85,457.68 L845.10,457.96 L845.35,458.38 L845.60,458.90 L845.85,459.38 L846.10,459.48 L846.35,458.84 L846.60,457.34 L846.85,455.16 L847.10,452.61 L847.35,449.94 L847.60,447.30 L847.85,444.77 L848.10,442.39 L848.35,440.28 L848.60,438.54 L848.85,437.12 L849.10,435.90 L849.35,434.75 L849.60,433.64 L849.85,432.54 L850.10,431.44 L850.35,430.34 L850.60,429.25 L850.85,428.15 L851.10,427.05 L851.35,425.96 L851.60,424.86 L851.85,423.76 L852.10,422.67 L852.35,421.57 L852.60,420.47 L852.85,419.38 L853.10,418.28 L853.35,417.18 L853.60,416.09 L853.85,414.99 L854.10,413.89 L854.35,412.80 L854.60,411.70 L854.85,410.60 L855.10,409.51 L855.35,408.41 L855.60,407.31 L855.85,406.22 L856.10,405.13 L856.35,404.08 L856.60,403.12 L856.85,402.31 L857.10,401.70 L857.35,401.31 L857.60,401.12 L857.85,401.06 L858.10,401.05 L858.35,401.07 L858.60,401.08 L858.85,401.10 L859.10,401.11 L859.35,401.13 L859.60,401.15 L859.85,401.18 L860.10,401.27 L860.35,401.47 L860.60,401.86 L860.85,402.44 L861.10,403.23 L861.35,404.20 L861.60,405.29 L861.85,406.45 L862.10,407.63 L862.35,408.81 L862.60,409.99 L862.85,411.16 L863.10,412.34 L863.35,413.52 L863.60,414.70 L863.85,415.88 L864.10,417.06 L864.35,418.24 L864.60,419.42 L864.85,420.60 L865.10,421.78 L865.35,422.96 L865.60,424.14 L865.85,425.32 L866.10,426.50 L866.35,427.68 L866.60,428.86 L866.85,430.04 L867.10,431.22 L867.35,432.40 L867.60,433.58 L867.85,434.76 L868.10,435.94 L868.35,437.12 L868.60,438.30 L868.85,439.48 L869.10,440.66 L869.35,441.84 L869.60,443.02 L869.85,444.20 L870.10,445.38 L870.35,446.56 L870.60,447.74 L870.85,448.92 L871.10,450.10 L871.35,451.26 L871.60,452.39 L871.85,453.45 L872.10,454.40 L872.35,455.21 L872.60,455.83 L872.85,456.21 L873.10,456.42 L873.35,456.54 L873.60,456.63 L873.85,456.71 L874.10,456.79 L874.35,456.88 L874.60,456.96 L874.85,457.04 L875.10,457.11 L875.35,457.19 L875.60,457.26 L875.85,457.34 L876.10,457.42 L876.35,457.54 L876.60,457.72 L876.85,458.02 L877.10,458.46 L877.35,458.99 L877.60,459.44 L877.85,459.45 L878.10,458.67 L878.35,457.03 L878.60,454.77 L878.85,452.18 L879.10,449.50 L879.35,446.88 L879.60,444.36 L879.85,442.00 L880.10,439.92 L880.35,438.18 L880.60,436.75 L880.85,435.50 L881.10,434.35 L881.35,433.25 L881.60,432.19 L881.85,431.14 L882.10,430.09 L882.35,429.04 L882.60,427.99 L882.85,426.95 L883.10,425.90 L883.35,424.85 L883.60,423.80 L883.85,422.75 L884.10,421.70 L884.35,420.65 L884.60,419.60 L884.85,418.56 L885.10,417.51 L885.35,416.46 L885.60,415.41 L885.85,414.36 L886.10,413.31 L886.35,412.26 L886.60,411.21 L886.85,410.16 L887.10,409.12 L887.35,408.07 L887.60,407.02 L887.85,405.97 L888.10,404.92 L888.35,403.87 L888.60,402.83 L888.85,401.82 L889.10,400.88 L889.35,400.10 L889.60,399.57 L889.85,399.34 L890.10,399.33 L890.35,399.46 L890.60,399.63 L890.85,399.82 L891.10,400.02 L891.35,400.22 L891.60,400.43 L891.85,400.63 L892.10,400.83 L892.35,401.05 L892.60,401.32 L892.85,401.71 L893.10,402.29 L893.35,403.09 L893.60,404.10 L893.85,405.27 L894.10,406.54 L894.35,407.86 L894.60,409.19 L894.85,410.51 L895.10,411.84 L895.35,413.17 L895.60,414.50 L895.85,415.83 L896.10,417.15 L896.35,418.48 L896.60,419.81 L896.85,421.14 L897.10,422.47 L897.35,423.80 L897.60,425.12 L897.85,426.45 L898.10,427.78 L898.35,429.08 L898.60,430.35 L898.85,431.52 L899.10,432.59 L899.35,433.60 L899.60,434.57 L899.85,435.53 L900.10,436.48 L900.35,437.44 L900.60,438.40 L900.85,439.36 L901.10,440.32 L901.35,441.27 L901.60,442.22 L901.85,443.15 L902.10,444.06 L902.35,444.94 L902.60,445.81 L902.85,446.68 L903.10,447.54 L903.35,448.41 L903.60,449.27 L903.85,450.14 L904.10,451.00 L904.35,451.87 L904.60,452.73 L904.85,453.56 L905.10,454.31 L905.35,454.86" stroke="#ff7f0e" stroke-width="3.2"/>
</g>
<path d="M76.9,31.0 H945.8 M76.9,289.3 H945.8 M76.9,30.0 V290.3 M944.8,30.0 V290.3" fill="none" stroke="#000" stroke-width="2.0"/>
<path d="M76.9,376.2 H945.8 M76.9,634.9 H945.8 M76.9,375.2 V635.9 M944.8,375.2 V635.9" fill="none" stroke="#000" stroke-width="2.0"/>
<path d="M116.10,289.3 v7.6 M116.10,634.9 v7.6 M234.60,289.3 v7.6 M234.60,634.9 v7.6 M353.10,289.3 v7.6 M353.10,634.9 v7.6 M471.60,289.3 v7.6 M471.60,634.9 v7.6 M590.10,289.3 v7.6 M590.10,634.9 v7.6 M708.60,289.3 v7.6 M708.60,634.9 v7.6 M827.10,289.3 v7.6 M827.10,634.9 v7.6 M77.0,52.9 h-7.6 M77.0,115.2 h-7.6 M77.0,177.5 h-7.6 M77.0,239.8 h-7.6 M77.0,432.9 h-7.6 M77.0,501.9 h-7.6 M77.0,570.9 h-7.6" stroke="#000" stroke-width="1.8" fill="none"/>
<g font-family="'Liberation Serif', serif" font-weight="bold" fill="#000" stroke="#000" stroke-width="0.3">
<text x="51.39" y="60.00" font-size="20.83" letter-spacing="0.800">2</text>
<text x="51.33" y="122.30" font-size="20.83" letter-spacing="0.800">0</text>
<text x="38.84" y="184.60" font-size="20.83" letter-spacing="0.800">−2</text>
<text x="38.34" y="246.90" font-size="20.83" letter-spacing="0.800">−4</text>
<text x="51.33" y="440.00" font-size="20.83" letter-spacing="0.800">0</text>
<text x="27.49" y="509.00" font-size="20.83" letter-spacing="0.800">−10</text>
<text x="27.49" y="578.00" font-size="20.83" letter-spacing="0.800">−20</text>
<text x="102.77" y="664.4" font-size="20.83" letter-spacing="0.823">0.0</text>
<text x="221.23" y="664.4" font-size="20.83" letter-spacing="0.856">2.5</text>
<text x="339.73" y="664.4" font-size="20.83" letter-spacing="0.846">5.0</text>
<text x="457.89" y="664.4" font-size="20.83" letter-spacing="1.023">7.5</text>
<text x="570.78" y="664.4" font-size="20.83" letter-spacing="0.769">10.0</text>
<text x="689.28" y="664.4" font-size="20.83" letter-spacing="0.773">12.5</text>
<text x="807.78" y="664.4" font-size="20.83" letter-spacing="0.769">15.0</text>
<text y="17.6" font-size="25"><tspan x="369.95" letter-spacing="-0.182">Target</tspan> <tspan x="447.16" letter-spacing="0.492">Frequency</tspan> <tspan x="569.98" letter-spacing="0.826">0.15</tspan> <tspan x="622.26" letter-spacing="1.071">Hz</tspan></text>
<text y="363.5" font-size="25"><tspan x="375.95" letter-spacing="-0.182">Target</tspan> <tspan x="453.21" letter-spacing="0.461">Frequency</tspan> <tspan x="576.50" letter-spacing="0.869">1.5</tspan> <tspan x="615.96" letter-spacing="0.971">Hz</tspan></text>
<text x="474.05" y="691.7" font-size="20.83" letter-spacing="0.217">Time [s]</text>
<text transform="translate(25.9,236.4) rotate(-90)" x="-0.92" y="0" font-size="20.83" letter-spacing="0.224">Joint Angle [deg]</text>
<text transform="translate(15.2,582.0) rotate(-90)" x="-0.92" y="0" font-size="20.83" letter-spacing="0.224">Joint Angle [deg]</text>
</g>
<g font-family="'DejaVu Sans', sans-serif" font-weight="bold" fill="#000">
<text x="224.43" y="311.9" font-size="20.83"><tspan font-style="italic">t</tspan><tspan x="235.02" y="315.5" font-size="15">0</tspan></text>
<text x="268.53" y="311.9" font-size="20.83"><tspan font-style="italic">t</tspan><tspan x="278.01" y="315.5" font-size="15">1</tspan></text>
</g>
<rect x="801.1" y="556.8" width="133.2" height="67.6" rx="4.2" ry="4.2" fill="#fff" fill-opacity="0.8" stroke="#ccc" stroke-opacity="0.8" stroke-width="2.08"/>
<path d="M808.1,573.0 H854.9" stroke="#1f77b4" stroke-width="3.2"/>
<path d="M808.1,603.6 H854.9" stroke="#ff7f0e" stroke-width="3.2"/>
<g font-family="'Liberation Serif', serif" font-weight="bold" fill="#000" stroke="#000" stroke-width="0.3">
<text x="870.29" y="581.1" font-size="20.83" letter-spacing="0.920">Hip</text>
<text x="870.15" y="611.6" font-size="20.83" letter-spacing="0.643">Ankle</text>
</g>
</svg>
</body></html>
